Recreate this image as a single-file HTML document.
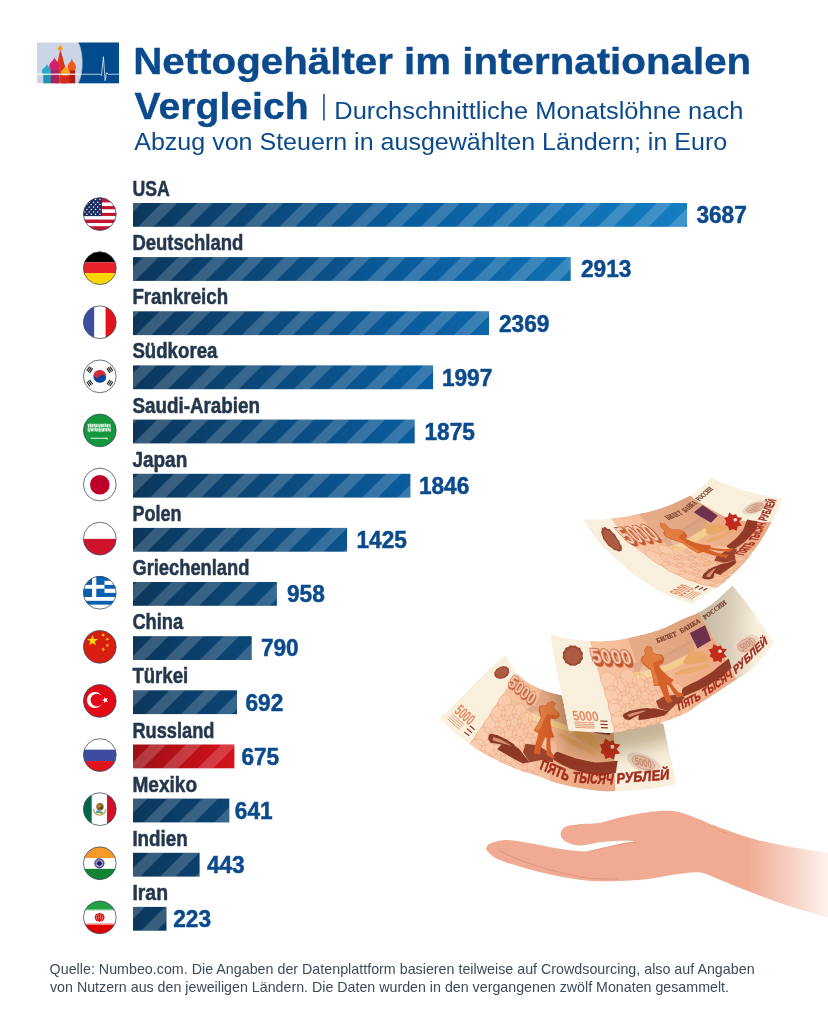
<!DOCTYPE html>
<html lang="de"><head><meta charset="utf-8"><title>Nettogehälter im internationalen Vergleich</title>
<style>
html,body{margin:0;padding:0;background:#fff}
body{width:828px;height:1024px;overflow:hidden;font-family:"Liberation Sans",Arial,sans-serif}
svg{display:block}
text{font-family:"Liberation Sans",Arial,sans-serif}
.lab{font-weight:bold;font-size:21.2px;fill:#25374d;stroke:#25374d;stroke-width:0.5px}
.val{font-weight:bold;font-size:24.0px;fill:#0b4a8c;stroke:#0b4a8c;stroke-width:0.5px}
.ttl{font-weight:bold;font-size:36.4px;fill:#0b4a8c;stroke:#0b4a8c;stroke-width:0.35px}
.sub{font-size:24.2px;fill:#0b4a8c}
.foot{font-size:14.8px;fill:#3c4b5c}
</style></head><body>
<svg width="828" height="1024" viewBox="0 0 828 1024">
<defs>
<linearGradient id="gb" gradientUnits="userSpaceOnUse" x1="133" y1="0" x2="687" y2="0">
<stop offset="0" stop-color="#0c375c"/><stop offset="0.5" stop-color="#0a5c9c"/><stop offset="1" stop-color="#147dc0"/></linearGradient>
<linearGradient id="gr" gradientUnits="userSpaceOnUse" x1="133" y1="0" x2="234.4" y2="0">
<stop offset="0" stop-color="#9c1015"/><stop offset="1" stop-color="#d5111b"/></linearGradient>
<pattern id="st" patternUnits="userSpaceOnUse" width="25" height="25" patternTransform="rotate(45)">
<rect x="7.95" y="0" width="11" height="25" fill="#fff" fill-opacity="0.18"/></pattern>
</defs>
<rect width="828" height="1024" fill="#fff"/>

<g id="logo">
<rect x="78.07" y="42.49" width="40.94" height="40.82" fill="#004b8d"/>
<path d="M37.0,42.49 L78.07,42.49 C83.38,53.12 83.38,72.68 78.07,83.31 L37.0,83.31Z" fill="#ccd5e6"/>
<path d="M78.31,42.49 C83.62,53.12 83.62,72.68 78.31,83.31" fill="none" stroke="#e8edf5" stroke-width="0.5"/>
<path d="M60.19,49.49 L66.23,71.23 L66.23,83.31 L55.6,83.31 L55.6,71.23Z" fill="#e63e1e"/>
<path d="M60.19,49.49 L66.23,71.23 L66.23,83.31 L60.8,83.31Z" fill="#d8321c"/>
<path d="M60.19,44.42 C60.45,46.52 62.73,47.17 62.73,48.57 C62.73,49.78 61.71,50.22 61.61,50.22 L58.77,50.22 C58.67,50.22 57.66,49.78 57.66,48.57 C57.66,47.17 59.94,46.52 60.19,44.42Z" fill="#f59a1c"/>
<rect x="43.29" y="73.65" width="7.97" height="9.66" fill="#2193b6"/>
<path d="M47.03,63.5 C47.55,67.22 52.22,68.53 52.22,71.31 C52.22,73.74 50.14,74.61 49.94,74.61 L44.12,74.61 C43.91,74.61 41.84,73.74 41.84,71.31 C41.84,68.53 46.51,67.22 47.03,63.5Z" fill="#2babcb"/>
<rect x="50.77" y="69.42" width="8.21" height="13.89" fill="#a8245c"/>
<path d="M54.52,57.22 C55.04,60.79 59.71,62.42 59.71,65.89 C59.71,68.94 57.63,70.02 57.43,70.02 L51.61,70.02 C51.4,70.02 49.32,68.94 49.32,65.89 C49.32,62.42 54.0,60.79 54.52,57.22Z" fill="#d4206c"/>
<rect x="68.89" y="70.02" width="6.28" height="13.29" fill="#b21c16"/>
<path d="M71.79,58.19 C72.21,61.88 76.01,63.41 76.01,66.65 C76.01,69.49 74.32,70.51 74.15,70.51 L69.42,70.51 C69.25,70.51 67.56,69.49 67.56,66.65 C67.56,63.41 71.36,61.88 71.79,58.19Z" fill="#ee5a1a"/>
<rect x="61.64" y="74.86" width="7.73" height="8.45" fill="#d62a1a"/>
<path d="M65.51,65.56 C65.95,68.68 69.98,69.88 69.98,72.43 C69.98,74.66 68.19,75.46 68.01,75.46 L63.0,75.46 C62.83,75.46 61.04,74.66 61.04,72.43 C61.04,69.88 65.06,68.68 65.51,65.56Z" fill="#f6a41e"/>
<path d="M37.0,74.25 L100.05,74.25 L101.5,75.46 L103.43,56.74 L105.12,80.65 L106.57,72.68 L108.26,74.25 L119.01,74.25" fill="none" stroke="#fff" stroke-width="0.7" stroke-linejoin="round"/>
<rect x="37.0" y="73.41" width="41.06" height="1.69" fill="#fff" fill-opacity="0.45"/>
</g>

<text class="ttl" x="133.2" y="73.8" textLength="618" lengthAdjust="spacingAndGlyphs">Nettogehälter im internationalen</text>
<text class="ttl" x="134.6" y="119.0" textLength="174" lengthAdjust="spacingAndGlyphs">Vergleich</text>
<rect x="323.2" y="94" width="1.5" height="26.5" fill="#0b4a8c"/>
<text class="sub" x="334.3" y="118.7" textLength="409" lengthAdjust="spacingAndGlyphs">Durchschnittliche Monatslöhne nach</text>
<text class="sub" x="134.2" y="150.1" textLength="593" lengthAdjust="spacingAndGlyphs">Abzug von Steuern in ausgewählten Ländern; in Euro</text>

<rect x="133.0" y="203.0" width="554.0" height="23.8" fill="url(#gb)"/><rect x="133.0" y="203.0" width="554.0" height="23.8" fill="url(#st)"/>
<text class="lab" x="132.4" y="196.0" textLength="37.3" lengthAdjust="spacingAndGlyphs">USA</text>
<text class="val" x="696.4" y="223.2" textLength="50.4" lengthAdjust="spacingAndGlyphs">3687</text>
<rect x="133.0" y="257.1" width="437.7" height="23.8" fill="url(#gb)"/><rect x="133.0" y="257.1" width="437.7" height="23.8" fill="url(#st)"/>
<text class="lab" x="132.4" y="250.1" textLength="111.0" lengthAdjust="spacingAndGlyphs">Deutschland</text>
<text class="val" x="581.0" y="277.3" textLength="50.4" lengthAdjust="spacingAndGlyphs">2913</text>
<rect x="133.0" y="311.3" width="356.0" height="23.8" fill="url(#gb)"/><rect x="133.0" y="311.3" width="356.0" height="23.8" fill="url(#st)"/>
<text class="lab" x="132.4" y="304.3" textLength="95.7" lengthAdjust="spacingAndGlyphs">Frankreich</text>
<text class="val" x="499.0" y="331.5" textLength="50.4" lengthAdjust="spacingAndGlyphs">2369</text>
<rect x="133.0" y="365.4" width="300.1" height="23.8" fill="url(#gb)"/><rect x="133.0" y="365.4" width="300.1" height="23.8" fill="url(#st)"/>
<text class="lab" x="132.4" y="358.4" textLength="85.0" lengthAdjust="spacingAndGlyphs">Südkorea</text>
<text class="val" x="441.9" y="385.6" textLength="50.4" lengthAdjust="spacingAndGlyphs">1997</text>
<rect x="133.0" y="419.6" width="281.7" height="23.8" fill="url(#gb)"/><rect x="133.0" y="419.6" width="281.7" height="23.8" fill="url(#st)"/>
<text class="lab" x="132.4" y="412.6" textLength="127.6" lengthAdjust="spacingAndGlyphs">Saudi-Arabien</text>
<text class="val" x="424.5" y="439.8" textLength="50.4" lengthAdjust="spacingAndGlyphs">1875</text>
<rect x="133.0" y="473.8" width="277.4" height="23.8" fill="url(#gb)"/><rect x="133.0" y="473.8" width="277.4" height="23.8" fill="url(#st)"/>
<text class="lab" x="132.4" y="466.8" textLength="54.9" lengthAdjust="spacingAndGlyphs">Japan</text>
<text class="val" x="418.9" y="493.9" textLength="50.4" lengthAdjust="spacingAndGlyphs">1846</text>
<rect x="133.0" y="527.9" width="214.1" height="23.8" fill="url(#gb)"/><rect x="133.0" y="527.9" width="214.1" height="23.8" fill="url(#st)"/>
<text class="lab" x="132.4" y="520.9" textLength="49.0" lengthAdjust="spacingAndGlyphs">Polen</text>
<text class="val" x="356.5" y="548.1" textLength="50.4" lengthAdjust="spacingAndGlyphs">1425</text>
<rect x="133.0" y="582.0" width="143.9" height="23.8" fill="url(#gb)"/><rect x="133.0" y="582.0" width="143.9" height="23.8" fill="url(#st)"/>
<text class="lab" x="132.4" y="575.0" textLength="117.0" lengthAdjust="spacingAndGlyphs">Griechenland</text>
<text class="val" x="287.0" y="602.2" textLength="37.8" lengthAdjust="spacingAndGlyphs">958</text>
<rect x="133.0" y="636.2" width="118.7" height="23.8" fill="url(#gb)"/><rect x="133.0" y="636.2" width="118.7" height="23.8" fill="url(#st)"/>
<text class="lab" x="132.4" y="629.2" textLength="50.8" lengthAdjust="spacingAndGlyphs">China</text>
<text class="val" x="260.9" y="656.4" textLength="37.8" lengthAdjust="spacingAndGlyphs">790</text>
<rect x="133.0" y="690.3" width="104.0" height="23.8" fill="url(#gb)"/><rect x="133.0" y="690.3" width="104.0" height="23.8" fill="url(#st)"/>
<text class="lab" x="132.4" y="683.3" textLength="55.8" lengthAdjust="spacingAndGlyphs">Türkei</text>
<text class="val" x="245.5" y="710.5" textLength="37.8" lengthAdjust="spacingAndGlyphs">692</text>
<rect x="133.0" y="744.5" width="101.4" height="23.8" fill="url(#gr)"/><rect x="133.0" y="744.5" width="101.4" height="23.8" fill="url(#st)"/>
<text class="lab" x="132.4" y="737.5" textLength="82.0" lengthAdjust="spacingAndGlyphs">Russland</text>
<text class="val" x="241.4" y="764.7" textLength="37.8" lengthAdjust="spacingAndGlyphs">675</text>
<rect x="133.0" y="798.6" width="96.3" height="23.8" fill="url(#gb)"/><rect x="133.0" y="798.6" width="96.3" height="23.8" fill="url(#st)"/>
<text class="lab" x="132.4" y="791.6" textLength="64.7" lengthAdjust="spacingAndGlyphs">Mexiko</text>
<text class="val" x="234.8" y="818.9" textLength="37.8" lengthAdjust="spacingAndGlyphs">641</text>
<rect x="133.0" y="852.8" width="66.6" height="23.8" fill="url(#gb)"/><rect x="133.0" y="852.8" width="66.6" height="23.8" fill="url(#st)"/>
<text class="lab" x="132.4" y="845.8" textLength="55.4" lengthAdjust="spacingAndGlyphs">Indien</text>
<text class="val" x="206.9" y="873.0" textLength="37.8" lengthAdjust="spacingAndGlyphs">443</text>
<rect x="133.0" y="906.9" width="33.5" height="23.8" fill="url(#gb)"/><rect x="133.0" y="906.9" width="33.5" height="23.8" fill="url(#st)"/>
<text class="lab" x="132.4" y="899.9" textLength="35.6" lengthAdjust="spacingAndGlyphs">Iran</text>
<text class="val" x="173.2" y="927.1" textLength="37.8" lengthAdjust="spacingAndGlyphs">223</text>
<defs><clipPath id="fc"><circle cx="0" cy="0" r="16.400000000000002"/></clipPath></defs>
<g transform="translate(99.8,214.05)"><g clip-path="url(#fc)"><rect x="-17" y="-17" width="34" height="34" fill="#fff"/><rect x="-17" y="-19" width="34" height="7.40" fill="#c2142f"/><rect x="-17" y="-8.0" width="34" height="3.20" fill="#c2142f"/><rect x="-17" y="-1.2" width="34" height="3.10" fill="#c2142f"/><rect x="-17" y="5.5" width="34" height="3.50" fill="#c2142f"/><rect x="-17" y="12.2" width="34" height="4.80" fill="#c2142f"/><rect x="-17" y="-17" width="19.1" height="19.05" fill="#1d2b5f"/><circle cx="-17.28" cy="-14.49" r="0.75" fill="#fff"/><circle cx="-12.93" cy="-14.49" r="0.75" fill="#fff"/><circle cx="-8.58" cy="-14.49" r="0.75" fill="#fff"/><circle cx="-4.23" cy="-14.49" r="0.75" fill="#fff"/><circle cx="0.12" cy="-14.49" r="0.75" fill="#fff"/><circle cx="-14.96" cy="-11.88" r="0.75" fill="#fff"/><circle cx="-10.61" cy="-11.88" r="0.75" fill="#fff"/><circle cx="-6.26" cy="-11.88" r="0.75" fill="#fff"/><circle cx="-2.09" cy="-11.88" r="0.75" fill="#fff"/><circle cx="-17.28" cy="-9.57" r="0.75" fill="#fff"/><circle cx="-12.93" cy="-9.57" r="0.75" fill="#fff"/><circle cx="-8.58" cy="-9.57" r="0.75" fill="#fff"/><circle cx="-4.23" cy="-9.57" r="0.75" fill="#fff"/><circle cx="0.12" cy="-9.57" r="0.75" fill="#fff"/><circle cx="-14.96" cy="-6.96" r="0.75" fill="#fff"/><circle cx="-10.61" cy="-6.96" r="0.75" fill="#fff"/><circle cx="-6.26" cy="-6.96" r="0.75" fill="#fff"/><circle cx="-2.09" cy="-6.96" r="0.75" fill="#fff"/><circle cx="-17.28" cy="-4.64" r="0.75" fill="#fff"/><circle cx="-12.93" cy="-4.64" r="0.75" fill="#fff"/><circle cx="-8.58" cy="-4.64" r="0.75" fill="#fff"/><circle cx="-4.23" cy="-4.64" r="0.75" fill="#fff"/><circle cx="0.12" cy="-4.64" r="0.75" fill="#fff"/><circle cx="-14.96" cy="-2.14" r="0.75" fill="#fff"/><circle cx="-10.61" cy="-2.14" r="0.75" fill="#fff"/><circle cx="-6.26" cy="-2.14" r="0.75" fill="#fff"/><circle cx="-2.09" cy="-2.14" r="0.75" fill="#fff"/><circle cx="-17.28" cy="0.29" r="0.75" fill="#fff"/><circle cx="-12.93" cy="0.29" r="0.75" fill="#fff"/><circle cx="-8.58" cy="0.29" r="0.75" fill="#fff"/><circle cx="-4.23" cy="0.29" r="0.75" fill="#fff"/><circle cx="0.12" cy="0.29" r="0.75" fill="#fff"/></g><circle cx="0" cy="0" r="16.400000000000002" fill="none" stroke="#3d5166" stroke-width="0.8"/></g>
<g transform="translate(99.8,268.15)"><g clip-path="url(#fc)"><rect x="-17" y="-17" width="34" height="11.20" fill="#000"/><rect x="-17" y="-5.8" width="34" height="10.70" fill="#e8212b"/><rect x="-17" y="4.9" width="34" height="12.10" fill="#ffd600"/></g><circle cx="0" cy="0" r="16.400000000000002" fill="none" stroke="#3d5166" stroke-width="0.8"/></g>
<g transform="translate(99.8,322.25)"><g clip-path="url(#fc)"><rect x="-17" y="-17" width="11.60" height="34" fill="#3f4c9f"/><rect x="-5.4" y="-17" width="11.20" height="34" fill="#fff"/><rect x="5.8" y="-17" width="11.20" height="34" fill="#e1141c"/></g><circle cx="0" cy="0" r="16.400000000000002" fill="none" stroke="#3d5166" stroke-width="0.8"/></g>
<g transform="translate(99.8,376.35)"><g clip-path="url(#fc)"><rect x="-17" y="-17" width="34" height="34" fill="#fff"/><g transform="rotate(34)"><path d="M-6.4,0 A6.4,6.4 0 0 1 6.4,0 Z" fill="#cd2e3a"/><path d="M-6.4,0 A6.4,6.4 0 0 0 6.4,0 Z" fill="#0047a0"/><circle cx="-3.2" cy="0" r="3.2" fill="#cd2e3a"/><circle cx="3.2" cy="0" r="3.2" fill="#0047a0"/></g><g transform="translate(-10.1,-6.7) rotate(-56)"><rect x="-2.7" y="-2.3" width="5.4" height="1.1" fill="#1a1a1a"/><rect x="-2.7" y="-0.55" width="5.4" height="1.1" fill="#1a1a1a"/><rect x="-2.7" y="1.2" width="5.4" height="1.1" fill="#1a1a1a"/></g><g transform="translate(10.1,-6.7) rotate(56)"><rect x="-2.7" y="-2.3" width="5.4" height="1.1" fill="#1a1a1a"/><rect x="-2.7" y="-0.55" width="5.4" height="1.1" fill="#1a1a1a"/><rect x="-2.7" y="1.2" width="5.4" height="1.1" fill="#1a1a1a"/></g><g transform="translate(-10.1,6.7) rotate(56)"><rect x="-2.7" y="-2.3" width="5.4" height="1.1" fill="#1a1a1a"/><rect x="-2.7" y="-0.55" width="5.4" height="1.1" fill="#1a1a1a"/><rect x="-2.7" y="1.2" width="5.4" height="1.1" fill="#1a1a1a"/></g><g transform="translate(10.1,6.7) rotate(-56)"><rect x="-2.7" y="-2.3" width="5.4" height="1.1" fill="#1a1a1a"/><rect x="-2.7" y="-0.55" width="5.4" height="1.1" fill="#1a1a1a"/><rect x="-2.7" y="1.2" width="5.4" height="1.1" fill="#1a1a1a"/></g></g><circle cx="0" cy="0" r="16.400000000000002" fill="none" stroke="#3d5166" stroke-width="0.8"/></g>
<g transform="translate(99.8,430.45)"><g clip-path="url(#fc)"><rect x="-17" y="-17" width="34" height="34" fill="#14973b"/><rect x="-12.2" y="-6.7" width="23" height="3.6" fill="#fff" fill-opacity="0.5"/><rect x="-12.4" y="-2.4" width="23.2" height="3.4" fill="#fff" fill-opacity="0.5"/><g fill="none" stroke="#fff" stroke-width="0.8" stroke-linecap="round"><path d="M-11.6,-5.8 l0.5,3.0"/><path d="M-11.0,-1.3 l0.4,2.9"/><path d="M-9.4,-6.5 l0.1,3.1"/><path d="M-8.8,-1.6 l0.7,1.9"/><path d="M-7.3,-5.9 l-0.2,2.7"/><path d="M-6.7,-1.6 l-0.9,2.1"/><path d="M-5.2,-6.2 l0.7,3.0"/><path d="M-4.6,-2.0 l0.5,2.0"/><path d="M-3.0,-5.8 l-0.3,2.2"/><path d="M-2.4,-1.3 l-0.5,2.1"/><path d="M-0.8,-5.3 l0.6,2.5"/><path d="M-0.2,-1.2 l0.1,2.6"/><path d="M1.3,-6.3 l0.7,2.9"/><path d="M1.9,-1.2 l0.7,2.2"/><path d="M3.4,-6.1 l-0.3,2.3"/><path d="M4.0,-2.1 l-0.4,2.5"/><path d="M5.6,-6.5 l0.4,2.5"/><path d="M6.2,-1.9 l0.6,2.4"/><path d="M7.7,-6.1 l0.1,2.9"/><path d="M8.3,-2.1 l0.9,1.8"/><path d="M9.9,-5.6 l0.6,2.2"/><path d="M10.5,-1.4 l-0.2,2.5"/></g><path d="M-9.1,7.8 L7.9,7.8" stroke="#fff" stroke-width="1" fill="none" opacity="0.9"/><path d="M6.3,7 L6.3,8.9 M7.2,8.4 L8.2,8.9" stroke="#fff" stroke-width="0.7" fill="none" opacity="0.9"/></g><circle cx="0" cy="0" r="16.400000000000002" fill="none" stroke="#3d5166" stroke-width="0.8"/></g>
<g transform="translate(99.8,484.55)"><g clip-path="url(#fc)"><rect x="-17" y="-17" width="34" height="34" fill="#fff"/><circle cx="0" cy="0.2" r="9.8" fill="#bf0029"/></g><circle cx="0" cy="0" r="16.400000000000002" fill="none" stroke="#3d5166" stroke-width="0.8"/></g>
<g transform="translate(99.8,538.65)"><g clip-path="url(#fc)"><rect x="-17" y="-17" width="34" height="34" fill="#fff"/><rect x="-17" y="0.2" width="34" height="17" fill="#d0132b"/></g><circle cx="0" cy="0" r="16.400000000000002" fill="none" stroke="#3d5166" stroke-width="0.8"/></g>
<g transform="translate(99.8,592.75)"><g clip-path="url(#fc)"><rect x="-17" y="-17" width="34" height="34" fill="#fff"/><rect x="-17" y="-17" width="34" height="5.02" fill="#0a5fae"/><rect x="-17" y="-7.87" width="34" height="3.87" fill="#0a5fae"/><rect x="-17" y="0.1" width="34" height="4.10" fill="#0a5fae"/><rect x="-17" y="8.07" width="34" height="3.83" fill="#0a5fae"/><rect x="-17" y="-17" width="21.7" height="21.2" fill="#0a5fae"/><rect x="-17" y="-7.87" width="21.7" height="3.87" fill="#fff"/><rect x="-7.8" y="-17" width="4.3" height="21.2" fill="#fff"/></g><circle cx="0" cy="0" r="16.400000000000002" fill="none" stroke="#3d5166" stroke-width="0.8"/></g>
<g transform="translate(99.8,646.85)"><g clip-path="url(#fc)"><rect x="-17" y="-17" width="34" height="34" fill="#d81e10"/><polygon points="-7.25,-11.80 -5.97,-7.86 -1.83,-7.86 -5.18,-5.43 -3.90,-1.49 -7.25,-3.92 -10.60,-1.49 -9.32,-5.43 -12.67,-7.86 -8.53,-7.86" fill="#fde100"/><polygon points="1.64,-10.94 2.64,-12.00 1.95,-13.27 3.26,-12.65 4.26,-13.71 4.07,-12.27 5.38,-11.64 3.95,-11.37 3.77,-9.93 3.07,-11.21" fill="#fde100"/><polygon points="5.51,-7.57 6.83,-8.18 6.67,-9.62 7.65,-8.55 8.97,-9.15 8.26,-7.89 9.24,-6.82 7.82,-7.11 7.10,-5.84 6.94,-7.28" fill="#fde100"/><polygon points="5.59,-2.10 7.04,-2.11 7.48,-3.50 7.94,-2.12 9.39,-2.14 8.23,-1.27 8.69,0.10 7.51,-0.74 6.34,0.13 6.78,-1.26" fill="#fde100"/><polygon points="1.85,1.33 3.21,1.86 4.12,0.74 4.04,2.19 5.40,2.71 3.99,3.08 3.91,4.53 3.12,3.31 1.72,3.68 2.64,2.56" fill="#fde100"/></g><circle cx="0" cy="0" r="16.400000000000002" fill="none" stroke="#3d5166" stroke-width="0.8"/></g>
<g transform="translate(99.8,700.95)"><g clip-path="url(#fc)"><rect x="-17" y="-17" width="34" height="34" fill="#e30a17"/><circle cx="-4.9" cy="-0.9" r="8.0" fill="#fff"/><circle cx="-2.85" cy="-0.9" r="6.4" fill="#e30a17"/><polygon points="2.30,-0.80 4.41,-1.59 4.51,-3.84 5.92,-2.08 8.09,-2.68 6.84,-0.80 8.09,1.08 5.92,0.48 4.51,2.24 4.41,-0.01" fill="#fff"/></g><circle cx="0" cy="0" r="16.400000000000002" fill="none" stroke="#3d5166" stroke-width="0.8"/></g>
<g transform="translate(99.8,755.05)"><g clip-path="url(#fc)"><rect x="-17" y="-17" width="34" height="11.60" fill="#fff"/><rect x="-17" y="-5.4" width="34" height="11.40" fill="#3f4ba1"/><rect x="-17" y="6.0" width="34" height="11.00" fill="#e1141c"/></g><circle cx="0" cy="0" r="16.400000000000002" fill="none" stroke="#3d5166" stroke-width="0.8"/></g>
<g transform="translate(99.8,809.15)"><g clip-path="url(#fc)"><rect x="-17" y="-17" width="9.03" height="34" fill="#006847"/><rect x="-7.97" y="-17" width="15.22" height="34" fill="#fff"/><rect x="7.25" y="-17" width="9.75" height="34" fill="#ce1126"/><path d="M-6.3,0 Q-5.5,5.6 -0.2,6 Q5.4,5.6 6.1,0" fill="none" stroke="#b9a347" stroke-width="1.2"/><ellipse cx="-1.6" cy="2.6" rx="2.6" ry="1.5" fill="#4a9fb0"/><ellipse cx="1.5" cy="3.4" rx="2" ry="1.1" fill="#5d9a48"/><circle cx="0.2" cy="-2.4" r="3.7" fill="#8f5f24"/><circle cx="-0.8" cy="-3.2" r="1.8" fill="#b5852f"/><circle cx="1.6" cy="-1.2" r="1.3" fill="#5b3a18"/></g><circle cx="0" cy="0" r="16.400000000000002" fill="none" stroke="#3d5166" stroke-width="0.8"/></g>
<g transform="translate(99.8,863.25)"><g clip-path="url(#fc)"><rect x="-17" y="-17" width="34" height="11.80" fill="#f59a28"/><rect x="-17" y="-5.2" width="34" height="10.80" fill="#fff"/><rect x="-17" y="5.6" width="34" height="11.40" fill="#0f8534"/><circle cx="-0.4" cy="0.1" r="4.6" fill="#b9b3d6" stroke="#2f2474" stroke-width="1"/><circle cx="-0.4" cy="0.1" r="2.2" fill="#241a66"/><g stroke="#24246e" stroke-width="0.45" transform="translate(-0.4,0)"><path d="M0,0.1 L4.40,0.10"/><path d="M0,0.1 L3.81,2.30"/><path d="M0,0.1 L2.20,3.91"/><path d="M0,0.1 L0.00,4.50"/><path d="M0,0.1 L-2.20,3.91"/><path d="M0,0.1 L-3.81,2.30"/><path d="M0,0.1 L-4.40,0.10"/><path d="M0,0.1 L-3.81,-2.10"/><path d="M0,0.1 L-2.20,-3.71"/><path d="M0,0.1 L-0.00,-4.30"/><path d="M0,0.1 L2.20,-3.71"/><path d="M0,0.1 L3.81,-2.10"/></g></g><circle cx="0" cy="0" r="16.400000000000002" fill="none" stroke="#3d5166" stroke-width="0.8"/></g>
<g transform="translate(99.8,917.35)"><g clip-path="url(#fc)"><rect x="-17" y="-17" width="34" height="9.50" fill="#23a041"/><rect x="-17" y="-7.5" width="34" height="14.50" fill="#fff"/><rect x="-17" y="7.0" width="34" height="10.00" fill="#dc0000"/><rect x="-17" y="-7.6" width="34" height="1.1" fill="#bfe3c7"/><rect x="-17" y="5.6" width="34" height="1.5" fill="#f4b4b4"/><ellipse cx="-0.2" cy="0" rx="5" ry="4.5" fill="#dc0000" fill-opacity="0.55"/><g fill="none" stroke="#dc0000" stroke-width="1"><path d="M-0.2,-4.4 V4.4"/><path d="M-1.8,-3.4 Q-3.4,0 -1.2,3.6"/><path d="M1.4,-3.4 Q3.0,0 0.8,3.6"/><path d="M-3.4,-3.4 Q-6,0.5 -2.8,3.8"/><path d="M3.0,-3.4 Q5.6,0.5 2.4,3.8"/></g></g><circle cx="0" cy="0" r="16.400000000000002" fill="none" stroke="#3d5166" stroke-width="0.8"/></g>
<g id="notes">
<clipPath id="nc3"><path d="M505.6,655.2 L506.6,656.9 L507.6,658.7 L508.6,660.5 L509.6,662.4 L510.7,664.3 L511.9,666.2 L513.2,668.1 L514.7,670.1 L516.3,672.1 L518.0,674.1 L519.8,676.0 L521.8,677.8 L523.9,679.6 L526.1,681.2 L528.4,682.7 L530.9,684.2 L533.4,685.5 L536.0,686.9 L538.8,688.1 L541.6,689.3 L544.4,690.4 L547.4,691.5 L550.4,692.6 L553.6,693.6 L556.8,694.2 L560.2,695.1 L563.5,696.1 L566.9,697.1 L570.4,698.2 L574.0,699.4 L577.6,700.5 L581.3,701.8 L585.1,703.0 L588.9,704.4 L592.9,705.8 L596.9,707.3 L601.0,708.9 L605.2,710.4 L609.5,711.8 L614.0,713.3 L618.9,714.7 L624.3,716.3 L630.2,717.9 L636.4,719.4 L642.9,720.7 L649.6,721.7 L656.5,722.7 L663.3,723.8 L663.7,725.5 L664.1,727.4 L664.5,729.3 L664.9,731.2 L665.3,733.2 L665.8,735.2 L666.2,737.3 L666.7,739.4 L667.2,741.7 L667.7,743.9 L668.2,746.3 L668.7,748.7 L669.2,751.1 L669.8,753.7 L670.4,756.3 L671.0,759.0 L671.6,761.8 L672.3,764.7 L673.0,767.7 L673.7,770.8 L674.4,774.0 L675.1,777.3 L675.9,780.7 L676.7,784.2 L668.7,785.9 L660.8,787.5 L652.8,788.7 L644.9,789.5 L637.3,790.2 L629.9,790.7 L622.8,791.1 L616.1,791.3 L609.8,791.5 L603.5,791.4 L597.4,790.8 L591.4,790.1 L585.5,789.3 L579.8,788.3 L574.1,787.3 L568.6,786.1 L563.2,784.8 L557.9,783.4 L552.7,781.9 L547.8,780.0 L542.9,778.0 L538.2,776.0 L533.4,774.3 L528.5,773.0 L523.7,771.7 L519.1,770.0 L514.6,768.2 L510.2,766.3 L505.8,764.4 L501.5,762.4 L497.3,760.4 L493.2,758.3 L489.1,756.2 L485.2,754.0 L481.3,751.6 L477.5,749.3 L473.8,746.8 L470.1,744.3 L466.5,741.8 L463.0,739.3 L459.6,736.8 L456.4,734.3 L453.3,731.6 L450.4,729.0 L447.6,726.2 L445.0,723.4 L442.3,720.7 L439.7,718.0 L442.8,715.1 L445.8,712.3 L448.8,709.5 L451.8,706.7 L454.7,703.8 L457.5,701.0 L460.3,698.2 L463.1,695.4 L465.9,692.7 L468.6,689.9 L471.3,687.2 L474.0,684.5 L476.6,681.8 L479.2,679.1 L481.8,676.5 L484.4,673.9 L487.0,671.3 L489.6,668.8 L492.2,666.4 L494.9,664.1 L497.6,661.8 L500.3,659.6 L503.0,657.4Z"/></clipPath>
<g clip-path="url(#nc3)">
<path d="M505.6,655.2 L506.6,656.9 L507.6,658.7 L508.6,660.5 L509.6,662.4 L510.7,664.3 L511.9,666.2 L513.2,668.1 L514.7,670.1 L516.3,672.1 L518.0,674.1 L519.8,676.0 L521.8,677.8 L523.9,679.6 L526.1,681.2 L528.4,682.7 L530.9,684.2 L533.4,685.5 L536.0,686.9 L538.8,688.1 L541.6,689.3 L544.4,690.4 L547.4,691.5 L550.4,692.6 L553.6,693.6 L556.8,694.2 L560.2,695.1 L563.5,696.1 L566.9,697.1 L570.4,698.2 L574.0,699.4 L577.6,700.5 L581.3,701.8 L585.1,703.0 L588.9,704.4 L592.9,705.8 L596.9,707.3 L601.0,708.9 L605.2,710.4 L609.5,711.8 L614.0,713.3 L618.9,714.7 L624.3,716.3 L630.2,717.9 L636.4,719.4 L642.9,720.7 L649.6,721.7 L656.5,722.7 L663.3,723.8 L663.7,725.5 L664.1,727.4 L664.5,729.3 L664.9,731.2 L665.3,733.2 L665.8,735.2 L666.2,737.3 L666.7,739.4 L667.2,741.7 L667.7,743.9 L668.2,746.3 L668.7,748.7 L669.2,751.1 L669.8,753.7 L670.4,756.3 L671.0,759.0 L671.6,761.8 L672.3,764.7 L673.0,767.7 L673.7,770.8 L674.4,774.0 L675.1,777.3 L675.9,780.7 L676.7,784.2 L668.7,785.9 L660.8,787.5 L652.8,788.7 L644.9,789.5 L637.3,790.2 L629.9,790.7 L622.8,791.1 L616.1,791.3 L609.8,791.5 L603.5,791.4 L597.4,790.8 L591.4,790.1 L585.5,789.3 L579.8,788.3 L574.1,787.3 L568.6,786.1 L563.2,784.8 L557.9,783.4 L552.7,781.9 L547.8,780.0 L542.9,778.0 L538.2,776.0 L533.4,774.3 L528.5,773.0 L523.7,771.7 L519.1,770.0 L514.6,768.2 L510.2,766.3 L505.8,764.4 L501.5,762.4 L497.3,760.4 L493.2,758.3 L489.1,756.2 L485.2,754.0 L481.3,751.6 L477.5,749.3 L473.8,746.8 L470.1,744.3 L466.5,741.8 L463.0,739.3 L459.6,736.8 L456.4,734.3 L453.3,731.6 L450.4,729.0 L447.6,726.2 L445.0,723.4 L442.3,720.7 L439.7,718.0 L442.8,715.1 L445.8,712.3 L448.8,709.5 L451.8,706.7 L454.7,703.8 L457.5,701.0 L460.3,698.2 L463.1,695.4 L465.9,692.7 L468.6,689.9 L471.3,687.2 L474.0,684.5 L476.6,681.8 L479.2,679.1 L481.8,676.5 L484.4,673.9 L487.0,671.3 L489.6,668.8 L492.2,666.4 L494.9,664.1 L497.6,661.8 L500.3,659.6 L503.0,657.4Z" fill="#f8efdc"/>
<linearGradient id="pg3" gradientUnits="userSpaceOnUse" x1="495.2" y1="705.7" x2="613.8" y2="731.1"><stop offset="0" stop-color="#f7c6a6"/><stop offset="0.45" stop-color="#f3b892"/><stop offset="1" stop-color="#eaa984"/></linearGradient>
<path d="M517.7,673.7 L519.5,675.7 L521.4,677.5 L523.5,679.3 L525.7,680.9 L528.0,682.5 L530.5,683.9 L533.0,685.3 L535.6,686.7 L538.3,687.9 L541.1,689.1 L544.0,690.3 L546.9,691.4 L549.9,692.5 L553.0,693.5 L556.3,694.1 L559.6,694.9 L563.0,695.9 L566.4,697.0 L569.8,698.1 L573.4,699.2 L577.0,700.3 L580.7,701.6 L584.5,702.8 L588.3,704.2 L592.2,705.6 L596.2,707.1 L600.3,708.6 L604.5,710.1 L608.8,711.6 L613.3,713.0 L613.4,715.3 L613.4,717.7 L613.5,720.1 L613.6,722.6 L613.6,725.2 L613.7,727.8 L613.8,730.5 L613.9,733.3 L614.0,736.2 L614.1,739.1 L614.1,742.1 L614.2,745.3 L614.3,748.5 L614.4,751.8 L614.5,755.2 L614.5,758.7 L614.6,762.3 L614.7,766.0 L614.7,769.9 L614.8,773.9 L614.9,778.0 L614.9,782.3 L615.0,786.7 L615.1,791.3 L608.8,791.5 L602.5,791.3 L596.4,790.7 L590.5,790.0 L584.6,789.1 L578.9,788.2 L573.3,787.1 L567.7,785.9 L562.3,784.6 L557.1,783.2 L551.9,781.6 L547.0,779.7 L542.2,777.7 L537.4,775.7 L532.6,774.1 L527.7,772.8 L523.0,771.4 L518.4,769.7 L513.9,767.9 L509.5,766.0 L505.1,764.1 L500.9,762.1 L496.7,760.1 L492.5,758.0 L488.5,755.8 L484.5,753.6 L480.7,751.3 L476.9,748.9 L473.2,746.4 L469.5,743.9 L471.8,740.5 L474.2,737.1 L476.4,733.8 L478.7,730.5 L480.9,727.3 L483.1,724.1 L485.2,721.0 L487.3,717.9 L489.3,714.8 L491.3,711.7 L493.2,708.7 L495.2,705.7 L497.1,702.8 L498.9,699.9 L500.8,697.0 L502.7,694.2 L504.5,691.5 L506.4,688.8 L508.3,686.2 L510.2,683.6 L512.1,681.1 L514.0,678.6 L515.9,676.2Z" fill="url(#pg3)"/>
<path d="M542.0,689.5 L544.9,690.6 L547.8,691.7 L550.8,692.8 L553.9,693.7 L557.1,694.3 L560.4,695.1 L563.7,696.1 L567.0,697.2 L570.5,698.2 L574.0,699.4 L577.5,700.5 L581.2,701.7 L584.9,703.0 L588.7,704.3 L592.5,705.7 L596.5,707.2 L600.5,708.7 L604.6,710.2 L608.9,711.6 L613.3,713.0 L613.3,715.1 L613.4,717.2 L613.5,719.4 L613.5,721.6 L613.6,723.9 L613.7,726.2 L613.7,728.6 L613.8,731.1 L608.9,730.2 L604.1,729.1 L599.5,727.8 L594.9,726.5 L590.5,725.2 L586.2,723.9 L581.9,722.7 L577.7,721.4 L573.7,720.2 L569.7,718.9 L565.8,717.7 L562.0,716.3 L558.3,715.0 L554.7,713.7 L551.0,712.6 L547.4,711.8 L543.9,710.7 L540.6,709.5 L537.3,708.2 L534.1,706.9 L535.3,704.2 L536.4,701.7 L537.5,699.2 L538.7,696.7 L539.8,694.3 L540.9,691.9Z" fill="#d39a78" fill-opacity="0.45"/>
<path d="M531.9,705.1 L537.1,707.4 L542.5,709.6 L548.3,711.5 L554.6,712.8 L561.0,714.6 L567.5,716.4 L574.3,718.1 L580.8,719.9 L587.5,721.7 L594.3,723.6 L592.1,727.5 L589.7,731.6 L581.6,729.2 L573.7,726.8 L566.2,724.4 L558.8,721.9 L551.8,719.5 L544.8,717.8 L538.2,715.6 L532.3,712.9 L526.7,710.0 L529.3,707.5Z" fill="#c9977a" fill-opacity="0.5"/>
<path d="M526.2,710.5 L531.7,713.5 L537.5,716.3 L544.2,718.4 L551.2,720.1 L558.3,722.5 L565.7,724.9 L573.2,727.3 L581.1,729.7 L589.3,732.1 L587.6,737.0 L579.2,734.8 L571.1,732.5 L563.3,730.1 L555.9,727.5 L548.8,725.1 L541.7,723.4 L535.0,721.1 L528.9,717.8 L523.1,714.5Z" fill="#f3d28e" fill-opacity="0.9"/>
<path d="M572.7,732.0 L578.7,730.5 L584.7,729.1 L589.6,725.9 L587.8,731.6 L591.9,734.8 L596.2,738.0 L598.0,742.7 L599.8,747.5 L596.5,749.5 L589.2,745.4 L582.4,741.3 L575.9,737.2Z" fill="#e9a868"/><path d="M559.1,732.6 L564.2,735.0 L569.5,737.3 L575.5,740.8 L581.8,744.4 L588.4,747.9 L595.3,751.3 L594.7,755.6 L586.3,751.8 L578.3,747.9 L570.8,744.0 L564.5,739.9 L558.6,735.7Z" fill="#e9a868" fill-opacity="0.85"/>
<path d="M510.2,706.4 L506.7,710.0 L502.2,710.9 L498.7,708.4 L497.6,703.6 L499.4,698.5 L503.1,695.1 L507.2,694.6 L510.3,697.0 L511.5,701.4Z M504.3,717.2 L500.6,721.1 L495.8,722.0 L492.0,719.4 L490.8,714.4 L492.6,709.1 L496.5,705.5 L500.8,704.9 L504.2,707.3 L505.6,712.0Z M498.1,728.7 L494.1,732.8 L488.9,733.7 L484.7,730.9 L483.4,725.7 L485.3,720.1 L489.5,716.4 L494.2,715.7 L498.0,718.3 L499.5,723.2Z M491.4,740.7 L487.1,745.0 L481.5,745.9 L477.0,743.0 L475.4,737.4 L477.5,731.6 L482.0,727.7 L487.2,727.0 L491.2,729.7 L492.9,734.9Z M484.3,753.5 L482.8,752.6 L479.0,750.3 L474.3,747.2 L470.6,744.6 L469.2,743.7 L474.0,739.6 L479.6,738.9 L484.0,741.8 L485.8,747.3Z M515.1,715.9 L511.6,719.9 L506.9,721.1 L502.9,718.8 L501.4,714.1 L502.8,708.8 L506.4,705.2 L510.7,704.4 L514.3,706.5 L516.0,710.8Z M509.7,727.4 L506.0,731.6 L500.9,732.8 L496.6,730.3 L494.9,725.3 L496.5,719.9 L500.3,716.0 L504.9,715.1 L508.8,717.3 L510.6,721.9Z M503.8,739.4 L499.8,743.8 L494.4,745.1 L489.7,742.5 L488.0,737.1 L489.6,731.4 L493.7,727.4 L498.7,726.5 L502.9,728.8 L504.9,733.7Z M497.6,752.2 L493.3,756.9 L488.7,756.0 L483.8,753.2 L480.5,749.6 L482.2,743.5 L486.7,739.3 L492.1,738.4 L496.6,740.9 L498.7,746.1Z M494.3,759.1 L492.8,758.4 L488.7,756.3 L483.8,753.4 L479.9,750.9 L478.4,749.9 L479.9,750.8 L485.0,751.0 L489.8,753.7 L492.7,758.1Z M525.7,714.2 L522.5,718.2 L517.8,719.5 L513.7,717.6 L511.9,713.1 L513.0,708.0 L516.4,704.3 L520.7,703.3 L524.4,705.1 L526.4,709.2Z M521.0,725.5 L517.6,729.7 L512.6,731.2 L508.2,729.1 L506.3,724.3 L507.4,719.0 L510.9,715.0 L515.5,713.9 L519.5,715.8 L521.6,720.2Z M516.0,737.5 L512.3,742.0 L507.0,743.5 L502.3,741.2 L500.2,736.2 L501.4,730.5 L505.2,726.4 L510.1,725.2 L514.4,727.2 L516.7,731.9Z M510.6,750.2 L506.6,755.0 L501.0,756.6 L495.9,754.1 L493.6,748.7 L494.9,742.7 L499.0,738.3 L504.3,737.1 L508.9,739.3 L511.3,744.2Z M504.8,763.9 L503.2,763.4 L498.9,761.5 L493.8,758.8 L489.6,756.6 L488.1,755.6 L492.4,751.0 L498.1,749.7 L503.0,752.1 L505.6,757.5Z M532.2,723.2 L529.0,727.5 L524.2,729.1 L519.7,727.2 L517.4,722.7 L518.2,717.4 L521.5,713.5 L526.0,712.2 L530.1,713.9 L532.5,718.0Z M527.9,735.1 L524.5,739.7 L519.4,741.3 L514.6,739.3 L512.2,734.5 L513.0,728.9 L516.5,724.7 L521.3,723.3 L525.7,725.2 L528.2,729.6Z M523.3,747.8 L519.7,752.7 L514.2,754.4 L509.0,752.2 L506.5,747.0 L507.4,741.1 L511.2,736.7 L516.3,735.2 L521.0,737.2 L523.7,741.9Z M518.3,761.4 L514.5,766.7 L509.6,766.2 L504.2,763.7 L500.5,760.4 L501.4,754.1 L505.5,749.3 L510.9,747.8 L515.9,750.0 L518.8,755.1Z M515.7,769.0 L514.0,768.6 L509.6,766.8 L504.2,764.3 L499.9,762.1 L498.3,761.1 L499.9,761.7 L505.2,761.3 L510.5,763.7 L514.0,768.0Z M543.3,720.5 L540.3,724.8 L535.6,726.6 L530.9,724.9 L528.4,720.6 L528.9,715.5 L532.0,711.6 L536.5,710.2 L540.7,711.7 L543.3,715.6Z M539.7,732.2 L536.6,736.8 L531.5,738.7 L526.6,737.0 L523.9,732.4 L524.4,726.9 L527.7,722.7 L532.3,721.1 L536.9,722.7 L539.7,726.9Z M535.9,744.7 L532.5,749.7 L527.1,751.7 L521.9,749.8 L519.1,744.9 L519.6,739.0 L523.1,734.5 L528.1,732.9 L532.9,734.6 L535.9,739.0Z M531.7,758.2 L528.1,763.5 L522.4,765.7 L516.9,763.6 L513.9,758.2 L514.5,751.9 L518.2,747.1 L523.5,745.4 L528.6,747.3 L531.8,752.1Z M527.3,772.7 L525.4,772.6 L520.7,771.1 L515.1,768.9 L510.6,766.8 L509.0,765.8 L512.9,760.7 L518.6,758.9 L524.0,760.9 L527.3,766.1Z M548.3,741.1 L545.3,745.8 L540.0,747.9 L534.6,746.7 L531.4,742.2 L531.6,736.5 L534.8,731.9 L539.7,730.0 L544.8,731.1 L548.0,735.3Z M544.9,754.4 L541.7,759.5 L536.1,761.7 L530.3,760.3 L527.0,755.4 L527.3,749.3 L530.7,744.4 L535.9,742.4 L541.3,743.6 L544.7,748.2Z M541.3,768.8 L537.9,774.4 L532.7,774.2 L526.6,772.7 L522.3,769.7 L522.6,763.0 L526.2,757.8 L531.8,755.7 L537.4,757.0 L541.0,762.0Z M539.3,777.0 L537.4,776.6 L532.6,775.1 L526.5,773.5 L521.8,771.7 L520.1,770.8 L521.9,771.1 L527.4,770.1 L533.4,771.6 L537.5,775.8Z M557.5,751.5 L554.6,756.7 L549.2,758.6 L543.7,756.4 L540.2,751.5 L540.0,745.6 L543.2,740.7 L548.2,738.8 L553.4,740.6 L557.0,745.4Z M554.6,765.8 L551.5,771.4 L545.8,773.4 L540.0,771.0 L536.3,765.6 L536.1,759.2 L539.5,753.9 L544.9,751.9 L550.3,753.9 L554.1,759.2Z M551.5,781.4 L549.5,781.2 L544.5,779.5 L538.6,776.9 L533.8,774.8 L532.0,773.9 L535.5,768.2 L541.2,766.1 L547.0,768.4 L550.9,774.1Z" fill="#fbd9c0" fill-opacity="0.35" stroke="#e38456" stroke-opacity="0.6" stroke-width="0.45"/>
<path d="M555.8,752.2 L558.3,751.9 L566.9,755.3 L576.1,758.5 L585.3,760.5 L594.9,762.4 L602.4,762.2 L609.9,761.5 L617.7,760.7 L616.8,766.5 L615.9,772.7 L608.7,774.3 L601.6,775.5 L593.6,774.6 L585.7,773.5 L577.7,771.1 L570.0,768.5 L562.0,764.7 L554.5,760.5 L551.9,757.6Z" fill="#913a27"/>
<path d="M525.5,743.7 L530.8,744.4 L536.4,744.9 L542.0,747.8 L547.6,751.5 L553.4,755.4 L553.1,762.4 L547.3,761.2 L541.6,760.0 L535.8,761.0 L529.9,762.3 L526.3,757.3 L522.9,752.2 L524.2,747.9Z" fill="#9a4430"/><path d="M505.9,739.1 L512.4,744.1 L519.3,749.1 L524.3,755.7 L529.9,762.3 L522.8,763.6 L514.6,759.3 L506.8,754.8 L502.0,752.0 L497.4,749.2 L501.7,744.1Z" fill="#8e3826"/>
<path d="M491.2,733.7 L497.9,735.2 L502.1,737.4 L506.5,739.5 L510.2,741.9 L514.0,744.3 L516.2,749.7 L510.2,747.7 L506.1,746.2 L502.1,744.7 L495.7,743.6 L490.9,743.1 L488.2,739.2 L488.8,735.1Z" fill="#8a3827"/><path d="M493.3,737.0 L499.7,739.0 L503.6,741.1 L507.5,743.2 L511.7,745.9 L504.8,744.0 L497.3,741.8 L492.5,740.2Z" fill="#d89070"/>
<path d="M552.2,701.1 L555.6,703.8 L553.8,706.9 L555.3,709.7 L559.6,713.2 L559.6,716.7 L555.7,719.2 L550.6,718.4 L550.5,722.7 L551.2,726.3 L551.8,730.1 L553.1,733.8 L554.4,737.5 L550.5,738.0 L550.3,743.5 L551.0,751.2 L554.8,757.4 L552.4,758.6 L546.4,754.6 L546.4,750.3 L546.3,746.1 L546.8,738.7 L545.4,736.8 L543.0,742.5 L541.6,746.3 L540.2,750.3 L540.4,754.6 L534.0,753.5 L534.9,746.8 L536.0,742.8 L537.1,738.8 L538.5,733.5 L533.5,730.2 L537.2,725.0 L539.0,721.4 L540.9,718.0 L539.7,714.3 L538.7,710.6 L539.0,706.6 L542.2,705.3 L545.9,705.5 L547.6,702.7Z" fill="#d5602a"/><path d="M551.9,701.5 L555.0,704.0 L553.4,706.7 L554.8,709.8 L558.6,713.2 L557.7,716.1 L552.2,714.7 L547.2,714.3 L543.9,719.8 L542.8,723.0 L541.7,726.3 L539.7,729.2 L537.7,732.1 L534.4,729.8 L537.5,725.2 L539.5,721.8 L541.5,718.3 L540.8,714.6 L540.3,710.9 L539.9,707.2 L542.6,706.0 L546.3,706.1 L548.1,703.0Z" fill="#e58549" fill-opacity="0.8"/>
<polygon points="616.6,748.9 620.1,753.3 615.0,754.4 613.9,759.4 609.5,757.5 605.4,759.0 604.0,754.4 600.5,752.7 602.1,748.9 599.6,744.8 603.8,743.2 605.1,738.3 609.5,741.4 613.3,739.9 614.8,743.7 620.4,744.4" fill="#c12b1d"/>
<circle cx="612.4" cy="746.7" r="2.0" fill="#f8e8d8"/>
<path d="M595.2,718.3 L603.7,720.6 L612.5,722.5 L611.7,726.5 L610.9,730.8 L610.0,735.3 L601.7,734.1 L593.7,732.5 L594.2,727.6 L594.7,722.9Z" fill="#6f3150"/>
<path d="M660.3,765.8 L660.2,768.5 L658.3,770.9 L654.9,772.6 L650.2,773.2 L644.9,772.7 L639.5,771.0 L634.7,768.3 L630.8,765.0 L628.2,761.4 L627.1,758.1 L627.4,755.3 L629.2,753.4 L632.2,752.4 L636.3,752.5 L641.2,753.5 L646.4,755.2 L651.4,757.4 L655.6,760.0 L658.7,762.9Z" fill="#ead3c0"/>
<path d="M654.7,765.0 L654.5,766.9 L653.3,768.4 L650.9,769.4 L647.8,769.8 L644.3,769.4 L640.6,768.2 L637.3,766.4 L634.6,764.2 L632.8,761.9 L632.0,759.7 L632.2,757.8 L633.4,756.4 L635.5,755.7 L638.4,755.7 L641.7,756.3 L645.3,757.5 L648.7,759.1 L651.6,760.9 L653.6,763.0Z" fill="#e3bfa8" stroke="#c58a72" stroke-width="0.7"/>
<text transform="matrix(0.6828,0.1547,0.1356,1.0882,635.19,764.53)" style="font-family:Liberation Sans,Arial,sans-serif;font-weight:bold;fill:#c58a72;font-size:10.0px" textLength="24.8" lengthAdjust="spacingAndGlyphs">5000</text>
<path d="M506.2,676.5 L504.8,678.0 L502.7,678.3 L500.7,679.0 L498.8,678.5 L496.9,678.2 L495.8,677.0 L494.4,675.9 L494.6,674.2 L494.1,672.7 L495.4,671.0 L496.1,669.3 L498.1,668.3 L499.7,666.9 L501.7,666.6 L503.7,666.0 L505.3,666.6 L507.1,666.7 L507.9,668.0 L509.1,669.0 L508.8,670.7 L509.6,672.2 L508.4,673.8 L508.0,675.5Z" fill="#9c4a36"/>
<path d="M505.4,675.8 L503.7,676.8 L501.9,677.4 L500.0,677.5 L498.2,677.0 L496.9,676.1 L496.1,674.9 L495.9,673.4 L496.3,671.8 L497.3,670.3 L498.7,669.0 L500.5,668.1 L502.4,667.5 L504.1,667.5 L505.7,667.9 L506.9,668.8 L507.6,670.0 L507.8,671.5 L507.5,673.0 L506.7,674.5Z" fill="#ad5c44"/>
<path d="M452.5,714.0 L456.1,717.5 L459.9,721.0 L464.0,724.4" stroke="#e39a76" stroke-width="1" fill="none"/>
<path d="M450.8,715.6 L454.5,719.1 L458.4,722.6 L462.5,726.0" stroke="#e39a76" stroke-width="1" fill="none"/>
<path d="M449.2,717.2 L452.9,720.7 L456.9,724.2 L461.1,727.6" stroke="#e39a76" stroke-width="1" fill="none"/>
<path d="M447.5,718.7 L451.3,722.3 L455.4,725.8 L459.7,729.2" stroke="#e39a76" stroke-width="1" fill="none"/>
<path d="M469.9,725.8 L474.7,729.7" stroke="#8e3826" stroke-width="1.2" fill="none"/>
<path d="M467.1,728.8 L472.0,732.7" stroke="#8e3826" stroke-width="1.2" fill="none"/>
<path d="M464.3,731.9 L469.2,735.7" stroke="#8e3826" stroke-width="1.2" fill="none"/>
<text transform="matrix(0.9697,0.8303,-0.8373,1.3579,507.02,684.61)" style="font-family:Liberation Sans,Arial,sans-serif;font-weight:bold;fill:#f7cbb0;stroke:#b8502c;stroke-width:0.7px;paint-order:stroke;filter:url(#ds5);font-size:10.0px" textLength="24.8" lengthAdjust="spacingAndGlyphs">5000</text>
<text transform="matrix(0.6302,0.5402,-1.0458,1.2150,453.49,712.36)" style="font-family:Liberation Sans,Arial,sans-serif;font-weight:bold;fill:#e58a60;font-size:10.0px" textLength="24.8" lengthAdjust="spacingAndGlyphs">5000</text>
<text transform="matrix(0.6660,0.2338,-0.1078,0.4858,562.67,704.55)" style="font-family:Liberation Serif,serif;font-weight:bold;fill:#74402c;stroke:#74402c;stroke-width:0.3px;font-size:10.0px" textLength="31.0" lengthAdjust="spacingAndGlyphs">БИЛЕТ</text><text transform="matrix(0.7320,0.1779,-0.0312,0.4799,587.68,713.17)" style="font-family:Liberation Serif,serif;font-weight:bold;fill:#74402c;stroke:#74402c;stroke-width:0.3px;font-size:10.0px" textLength="31.0" lengthAdjust="spacingAndGlyphs">БАНКА</text><text transform="matrix(0.8270,0.1904,0.0442,0.4512,614.95,719.69)" style="font-family:Liberation Serif,serif;font-weight:bold;fill:#74402c;stroke:#74402c;stroke-width:0.3px;font-size:10.0px" textLength="37.2" lengthAdjust="spacingAndGlyphs">РОССИИ</text>
<text transform="matrix(1.1363,0.5039,-0.2996,1.5064,539.83,769.05)" style="font-family:Liberation Sans,Arial,sans-serif;font-weight:bold;font-style:italic;fill:#a32c1e;stroke:#a32c1e;stroke-width:0.35px;font-size:10.0px" textLength="24.8" lengthAdjust="spacingAndGlyphs">ПЯТЬ</text><text transform="matrix(1.3189,0.0648,-0.0916,1.5394,572.32,782.47)" style="font-family:Liberation Sans,Arial,sans-serif;font-weight:bold;font-style:italic;fill:#a32c1e;stroke:#a32c1e;stroke-width:0.35px;font-size:10.0px" textLength="31.0" lengthAdjust="spacingAndGlyphs">ТЫСЯЧ</text><text transform="matrix(1.4177,-0.1126,0.1619,1.4490,617.04,783.45)" style="font-family:Liberation Sans,Arial,sans-serif;font-weight:bold;font-style:italic;fill:#a32c1e;stroke:#a32c1e;stroke-width:0.35px;font-size:10.0px" textLength="37.2" lengthAdjust="spacingAndGlyphs">РУБЛЕЙ</text>
</g>
<filter id="ds5" x="-10%" y="-20%" width="125%" height="150%"><feMorphology in="SourceAlpha" operator="dilate" radius="0.25" result="d"/><feOffset in="d" dx="0.55" dy="0.75" result="o"/><feFlood flood-color="#c4592f"/><feComposite in2="o" operator="in" result="s"/><feMerge><feMergeNode in="s"/><feMergeNode in="SourceGraphic"/></feMerge></filter><filter id="n3bl" x="-20%" y="-30%" width="140%" height="170%"><feGaussianBlur stdDeviation="9"/></filter><g clip-path="url(#nc3)"><path d="M550.0,634.4 L554.1,635.4 L558.2,636.3 L562.3,637.3 L566.4,638.1 L570.4,638.8 L574.5,639.4 L578.6,640.0 L582.6,640.5 L586.7,640.8 L590.6,641.0 L594.6,641.2 L598.4,641.2 L602.2,641.2 L605.9,641.1 L609.6,640.8 L613.2,640.5 L616.8,640.1 L620.3,639.5 L623.8,638.9 L627.2,638.2 L630.7,637.5 L634.1,636.7 L637.5,635.9 L640.9,635.1 L644.3,634.2 L647.8,633.3 L651.2,632.4 L654.7,631.3 L658.1,630.2 L661.6,628.9 L665.1,627.4 L668.5,625.9 L672.1,624.2 L675.6,622.5 L679.3,620.7 L683.0,618.9 L686.9,617.3 L690.9,615.8 L695.1,614.2 L699.1,612.1 L703.3,609.8 L707.5,607.1 L711.8,604.1 L716.1,600.7 L720.2,597.0 L724.3,593.1 L728.4,589.2 L732.5,585.2 L734.5,587.7 L736.5,590.2 L738.5,592.7 L740.4,595.2 L742.4,597.6 L744.3,600.0 L746.2,602.5 L748.0,604.9 L749.8,607.4 L751.5,609.8 L753.2,612.3 L754.9,614.7 L756.5,617.1 L758.1,619.5 L759.7,621.9 L761.4,624.3 L763.0,626.6 L764.5,628.9 L766.1,631.2 L767.7,633.5 L769.2,635.8 L770.8,638.0 L772.3,640.3 L773.8,642.5 L769.7,648.1 L765.6,653.7 L761.2,659.0 L756.7,664.0 L752.1,668.7 L747.2,672.8 L742.2,676.3 L737.3,679.2 L732.6,682.0 L728.1,684.9 L723.8,687.9 L719.6,690.7 L715.5,693.5 L711.4,696.1 L707.4,698.7 L703.5,701.3 L699.6,703.8 L695.9,706.3 L692.4,709.0 L688.8,711.5 L684.9,713.5 L681.0,715.2 L677.0,716.8 L673.1,718.3 L669.2,719.7 L665.2,721.1 L661.3,722.4 L657.3,723.7 L653.3,724.8 L649.2,725.9 L645.2,726.8 L641.0,727.7 L636.8,728.5 L632.6,729.4 L628.4,730.3 L624.0,731.2 L619.6,732.0 L615.1,732.6 L610.5,732.9 L605.9,733.0 L601.3,732.8 L596.6,732.6 L591.9,732.4 L587.3,732.1 L582.6,731.8 L577.9,731.4 L573.2,731.0 L568.5,730.7 L567.9,727.5 L567.2,724.2 L566.6,720.8 L565.9,717.4 L565.3,714.0 L564.6,710.4 L563.9,706.8 L563.2,703.2 L562.4,699.5 L561.7,695.7 L560.9,691.8 L560.2,687.9 L559.4,683.9 L558.5,679.9 L557.7,675.7 L556.8,671.5 L556.0,667.2 L555.1,662.8 L554.2,658.3 L553.4,653.7 L552.5,649.0 L551.7,644.3 L550.9,639.4Z" transform="translate(-4,22)" fill="#55340c" fill-opacity="0.33" filter="url(#n3bl)"/></g>
<clipPath id="nc2"><path d="M550.0,634.4 L554.1,635.4 L558.2,636.3 L562.3,637.3 L566.4,638.1 L570.4,638.8 L574.5,639.4 L578.6,640.0 L582.6,640.5 L586.7,640.8 L590.6,641.0 L594.6,641.2 L598.4,641.2 L602.2,641.2 L605.9,641.1 L609.6,640.8 L613.2,640.5 L616.8,640.1 L620.3,639.5 L623.8,638.9 L627.2,638.2 L630.7,637.5 L634.1,636.7 L637.5,635.9 L640.9,635.1 L644.3,634.2 L647.8,633.3 L651.2,632.4 L654.7,631.3 L658.1,630.2 L661.6,628.9 L665.1,627.4 L668.5,625.9 L672.1,624.2 L675.6,622.5 L679.3,620.7 L683.0,618.9 L686.9,617.3 L690.9,615.8 L695.1,614.2 L699.1,612.1 L703.3,609.8 L707.5,607.1 L711.8,604.1 L716.1,600.7 L720.2,597.0 L724.3,593.1 L728.4,589.2 L732.5,585.2 L734.5,587.7 L736.5,590.2 L738.5,592.7 L740.4,595.2 L742.4,597.6 L744.3,600.0 L746.2,602.5 L748.0,604.9 L749.8,607.4 L751.5,609.8 L753.2,612.3 L754.9,614.7 L756.5,617.1 L758.1,619.5 L759.7,621.9 L761.4,624.3 L763.0,626.6 L764.5,628.9 L766.1,631.2 L767.7,633.5 L769.2,635.8 L770.8,638.0 L772.3,640.3 L773.8,642.5 L769.7,648.1 L765.6,653.7 L761.2,659.0 L756.7,664.0 L752.1,668.7 L747.2,672.8 L742.2,676.3 L737.3,679.2 L732.6,682.0 L728.1,684.9 L723.8,687.9 L719.6,690.7 L715.5,693.5 L711.4,696.1 L707.4,698.7 L703.5,701.3 L699.6,703.8 L695.9,706.3 L692.4,709.0 L688.8,711.5 L684.9,713.5 L681.0,715.2 L677.0,716.8 L673.1,718.3 L669.2,719.7 L665.2,721.1 L661.3,722.4 L657.3,723.7 L653.3,724.8 L649.2,725.9 L645.2,726.8 L641.0,727.7 L636.8,728.5 L632.6,729.4 L628.4,730.3 L624.0,731.2 L619.6,732.0 L615.1,732.6 L610.5,732.9 L605.9,733.0 L601.3,732.8 L596.6,732.6 L591.9,732.4 L587.3,732.1 L582.6,731.8 L577.9,731.4 L573.2,731.0 L568.5,730.7 L567.9,727.5 L567.2,724.2 L566.6,720.8 L565.9,717.4 L565.3,714.0 L564.6,710.4 L563.9,706.8 L563.2,703.2 L562.4,699.5 L561.7,695.7 L560.9,691.8 L560.2,687.9 L559.4,683.9 L558.5,679.9 L557.7,675.7 L556.8,671.5 L556.0,667.2 L555.1,662.8 L554.2,658.3 L553.4,653.7 L552.5,649.0 L551.7,644.3 L550.9,639.4Z"/></clipPath>
<g clip-path="url(#nc2)">
<path d="M550.0,634.4 L554.1,635.4 L558.2,636.3 L562.3,637.3 L566.4,638.1 L570.4,638.8 L574.5,639.4 L578.6,640.0 L582.6,640.5 L586.7,640.8 L590.6,641.0 L594.6,641.2 L598.4,641.2 L602.2,641.2 L605.9,641.1 L609.6,640.8 L613.2,640.5 L616.8,640.1 L620.3,639.5 L623.8,638.9 L627.2,638.2 L630.7,637.5 L634.1,636.7 L637.5,635.9 L640.9,635.1 L644.3,634.2 L647.8,633.3 L651.2,632.4 L654.7,631.3 L658.1,630.2 L661.6,628.9 L665.1,627.4 L668.5,625.9 L672.1,624.2 L675.6,622.5 L679.3,620.7 L683.0,618.9 L686.9,617.3 L690.9,615.8 L695.1,614.2 L699.1,612.1 L703.3,609.8 L707.5,607.1 L711.8,604.1 L716.1,600.7 L720.2,597.0 L724.3,593.1 L728.4,589.2 L732.5,585.2 L734.5,587.7 L736.5,590.2 L738.5,592.7 L740.4,595.2 L742.4,597.6 L744.3,600.0 L746.2,602.5 L748.0,604.9 L749.8,607.4 L751.5,609.8 L753.2,612.3 L754.9,614.7 L756.5,617.1 L758.1,619.5 L759.7,621.9 L761.4,624.3 L763.0,626.6 L764.5,628.9 L766.1,631.2 L767.7,633.5 L769.2,635.8 L770.8,638.0 L772.3,640.3 L773.8,642.5 L769.7,648.1 L765.6,653.7 L761.2,659.0 L756.7,664.0 L752.1,668.7 L747.2,672.8 L742.2,676.3 L737.3,679.2 L732.6,682.0 L728.1,684.9 L723.8,687.9 L719.6,690.7 L715.5,693.5 L711.4,696.1 L707.4,698.7 L703.5,701.3 L699.6,703.8 L695.9,706.3 L692.4,709.0 L688.8,711.5 L684.9,713.5 L681.0,715.2 L677.0,716.8 L673.1,718.3 L669.2,719.7 L665.2,721.1 L661.3,722.4 L657.3,723.7 L653.3,724.8 L649.2,725.9 L645.2,726.8 L641.0,727.7 L636.8,728.5 L632.6,729.4 L628.4,730.3 L624.0,731.2 L619.6,732.0 L615.1,732.6 L610.5,732.9 L605.9,733.0 L601.3,732.8 L596.6,732.6 L591.9,732.4 L587.3,732.1 L582.6,731.8 L577.9,731.4 L573.2,731.0 L568.5,730.7 L567.9,727.5 L567.2,724.2 L566.6,720.8 L565.9,717.4 L565.3,714.0 L564.6,710.4 L563.9,706.8 L563.2,703.2 L562.4,699.5 L561.7,695.7 L560.9,691.8 L560.2,687.9 L559.4,683.9 L558.5,679.9 L557.7,675.7 L556.8,671.5 L556.0,667.2 L555.1,662.8 L554.2,658.3 L553.4,653.7 L552.5,649.0 L551.7,644.3 L550.9,639.4Z" fill="#f8efdc"/>
<linearGradient id="pg2" gradientUnits="userSpaceOnUse" x1="604.1" y1="691.2" x2="711.4" y2="634.0"><stop offset="0" stop-color="#f7c6a6"/><stop offset="0.45" stop-color="#f3b892"/><stop offset="1" stop-color="#eaa984"/></linearGradient>
<path d="M590.0,641.0 L593.9,641.1 L597.8,641.2 L601.6,641.2 L605.3,641.1 L609.0,640.9 L612.6,640.6 L616.2,640.2 L619.8,639.6 L623.2,639.0 L626.7,638.3 L630.1,637.6 L633.5,636.8 L636.9,636.0 L640.4,635.2 L643.8,634.4 L647.2,633.5 L650.7,632.5 L654.1,631.5 L657.6,630.4 L661.1,629.1 L664.5,627.7 L668.0,626.1 L671.5,624.5 L675.1,622.7 L678.7,621.0 L682.4,619.2 L686.3,617.5 L690.3,616.0 L694.4,614.5 L698.5,612.5 L700.4,615.6 L702.2,618.6 L704.1,621.6 L705.9,624.6 L707.6,627.5 L709.4,630.5 L711.1,633.4 L712.8,636.3 L714.5,639.1 L716.2,641.9 L717.8,644.7 L719.4,647.5 L721.0,650.3 L722.6,653.1 L724.1,655.8 L725.5,658.5 L727.0,661.3 L728.4,664.0 L729.8,666.6 L731.2,669.3 L732.5,671.9 L733.9,674.5 L735.2,677.1 L736.5,679.7 L731.9,682.5 L727.4,685.4 L723.1,688.3 L718.9,691.2 L714.8,693.9 L710.8,696.5 L706.8,699.1 L702.8,701.7 L699.0,704.2 L695.3,706.7 L691.8,709.5 L688.2,711.9 L684.3,713.8 L680.4,715.5 L676.4,717.0 L672.5,718.5 L668.5,719.9 L664.6,721.3 L660.6,722.6 L656.7,723.9 L652.6,725.0 L648.6,726.0 L644.5,726.9 L640.3,727.8 L636.2,728.7 L631.9,729.5 L627.7,730.4 L623.3,731.3 L618.9,732.1 L614.4,732.7 L613.6,729.5 L612.9,726.3 L612.1,723.0 L611.3,719.6 L610.6,716.3 L609.7,712.8 L608.9,709.3 L608.1,705.8 L607.2,702.2 L606.2,698.6 L605.2,694.9 L604.1,691.2 L603.0,687.4 L601.8,683.6 L600.6,679.7 L599.3,675.7 L598.1,671.7 L596.9,667.5 L595.7,663.3 L594.6,659.0 L593.5,654.6 L592.3,650.2 L591.2,645.6Z" fill="url(#pg2)"/>
<linearGradient id="sg2" gradientUnits="userSpaceOnUse" x1="707.3" y1="626.9" x2="764.5" y2="628.9"><stop offset="0" stop-color="#c9bca6"/><stop offset="0.4" stop-color="#d9cdb7"/><stop offset="0.85" stop-color="#f8efdc"/></linearGradient>
<path d="M698.5,612.5 L702.2,610.4 L706.1,608.0 L709.9,605.4 L713.8,602.6 L717.6,599.4 L721.4,596.0 L725.1,592.4 L728.8,588.8 L732.5,585.2 L734.5,587.7 L736.5,590.2 L738.5,592.7 L740.4,595.2 L742.4,597.6 L744.3,600.0 L746.2,602.5 L748.0,604.9 L749.8,607.4 L751.5,609.8 L753.2,612.3 L754.9,614.7 L756.5,617.1 L758.1,619.5 L759.7,621.9 L761.4,624.3 L763.0,626.6 L764.5,628.9 L766.1,631.2 L767.7,633.5 L769.2,635.8 L770.8,638.0 L772.3,640.3 L773.8,642.5 L770.1,647.6 L766.4,652.7 L762.5,657.6 L758.4,662.2 L754.2,666.6 L750.0,670.6 L745.5,674.1 L741.0,677.1 L736.5,679.7 L735.2,677.1 L733.9,674.5 L732.5,671.9 L731.2,669.3 L729.8,666.6 L728.4,664.0 L727.0,661.3 L725.5,658.5 L724.1,655.8 L722.6,653.1 L721.0,650.3 L719.4,647.5 L717.8,644.7 L716.2,641.9 L714.5,639.1 L712.8,636.3 L711.1,633.4 L709.4,630.5 L707.6,627.5 L705.9,624.6 L704.1,621.6 L702.2,618.6 L700.4,615.6Z" fill="url(#sg2)"/>
<path d="M627.8,638.1 L631.2,637.4 L634.5,636.6 L637.9,635.8 L641.2,635.0 L644.6,634.2 L648.0,633.3 L651.4,632.3 L654.8,631.3 L658.2,630.2 L661.6,628.9 L665.0,627.5 L668.4,625.9 L671.9,624.3 L675.4,622.6 L679.0,620.8 L682.6,619.1 L686.4,617.5 L690.4,616.0 L694.5,614.4 L698.5,612.5 L700.2,615.3 L701.9,618.0 L703.5,620.7 L705.1,623.4 L706.7,626.1 L708.3,628.7 L709.9,631.3 L711.4,634.0 L707.2,636.1 L702.9,638.0 L698.8,639.9 L694.8,641.9 L691.0,643.9 L687.2,645.8 L683.5,647.7 L679.8,649.6 L676.2,651.4 L672.7,653.1 L669.2,654.7 L665.7,656.2 L662.1,657.5 L658.5,658.6 L654.9,659.6 L651.3,660.5 L647.7,661.5 L644.2,662.4 L640.6,663.2 L637.0,664.1 L635.7,660.5 L634.4,656.9 L633.1,653.3 L631.8,649.5 L630.5,645.8 L629.2,642.0Z" fill="#d39a78" fill-opacity="0.45"/>
<path d="M633.8,663.7 L639.8,662.5 L645.8,661.2 L651.8,659.8 L657.8,657.6 L663.7,655.1 L669.5,652.2 L675.4,648.8 L681.0,645.8 L686.7,642.7 L692.6,639.4 L693.4,644.9 L694.2,650.4 L687.2,654.0 L680.4,657.4 L673.8,660.6 L667.3,663.7 L660.5,666.1 L653.8,668.1 L647.1,670.0 L640.5,671.3 L633.8,672.4 L633.8,668.1Z" fill="#c9977a" fill-opacity="0.5"/>
<path d="M633.8,673.2 L640.5,672.3 L647.1,671.1 L653.8,669.1 L660.5,667.0 L667.2,664.5 L673.8,661.4 L680.4,658.2 L687.2,654.8 L694.2,651.2 L695.8,656.7 L688.7,660.5 L681.9,664.2 L675.4,667.7 L668.8,670.7 L662.1,673.1 L655.4,675.1 L648.7,677.1 L641.6,678.2 L634.5,679.0Z" fill="#f3d28e" fill-opacity="0.9"/>
<path d="M682.7,662.6 L686.0,657.2 L689.3,651.7 L690.7,645.2 L692.9,651.7 L697.6,651.8 L702.3,651.7 L706.0,654.7 L709.6,657.5 L708.1,661.2 L701.2,662.6 L694.4,663.8 L687.8,664.8Z" fill="#e9a868"/><path d="M674.1,672.8 L678.7,671.0 L683.5,669.1 L689.4,667.9 L695.5,666.6 L701.7,665.0 L708.1,663.3 L709.6,667.0 L702.1,669.4 L694.9,671.5 L687.8,673.5 L681.6,674.6 L675.5,675.6Z" fill="#e9a868" fill-opacity="0.85"/>
<path d="M617.3,680.5 L617.6,686.2 L614.7,690.1 L609.6,690.7 L604.3,687.6 L600.9,682.0 L600.7,676.1 L603.7,672.3 L608.7,671.9 L613.9,675.0Z M621.7,693.6 L621.7,699.1 L618.5,703.1 L613.3,703.8 L608.1,701.0 L605.0,695.7 L605.0,690.1 L608.2,686.3 L613.3,685.7 L618.4,688.5Z M625.4,706.2 L625.1,711.5 L621.7,715.4 L616.4,716.3 L611.3,713.7 L608.3,708.7 L608.7,703.3 L612.1,699.6 L617.3,698.8 L622.4,701.4Z M628.6,718.2 L628.2,723.3 L624.7,727.1 L619.3,728.1 L614.1,725.7 L611.2,721.0 L611.8,715.9 L615.4,712.2 L620.7,711.4 L625.7,713.7Z M631.7,729.6 L630.0,729.9 L625.7,730.9 L620.3,731.9 L615.7,732.5 L613.9,732.7 L614.6,727.8 L618.3,724.2 L623.7,723.3 L628.8,725.3Z M629.3,685.5 L629.6,691.1 L626.7,695.0 L621.8,695.9 L616.7,693.2 L613.4,688.0 L613.1,682.3 L616.0,678.3 L620.8,677.6 L625.9,680.4Z M633.5,698.2 L633.6,703.6 L630.4,707.4 L625.3,708.4 L620.3,706.0 L617.3,701.0 L617.4,695.5 L620.4,691.6 L625.4,690.8 L630.4,693.3Z M637.2,710.3 L637.0,715.5 L633.7,719.2 L628.5,720.3 L623.5,718.1 L620.6,713.5 L620.9,708.2 L624.2,704.3 L629.2,703.4 L634.2,705.7Z M640.5,721.9 L640.3,726.8 L636.3,728.6 L631.1,729.7 L626.5,729.6 L623.6,725.3 L624.0,720.2 L627.5,716.4 L632.6,715.4 L637.6,717.5Z M642.2,727.5 L640.6,727.8 L636.4,728.7 L631.1,729.7 L626.8,730.6 L625.1,731.0 L626.7,730.6 L630.6,727.9 L635.8,726.8 L640.6,727.8Z M636.4,677.0 L636.9,682.7 L634.3,686.8 L629.5,687.8 L624.5,685.1 L621.1,679.9 L620.6,674.1 L623.2,670.0 L627.9,669.2 L632.9,671.8Z M641.1,689.8 L641.4,695.3 L638.5,699.3 L633.6,700.4 L628.7,697.9 L625.5,693.0 L625.3,687.4 L628.0,683.5 L632.8,682.5 L637.8,684.9Z M645.2,702.1 L645.2,707.4 L642.2,711.3 L637.2,712.4 L632.2,710.2 L629.3,705.5 L629.3,700.2 L632.3,696.2 L637.2,695.2 L642.1,697.5Z M648.9,713.9 L648.8,718.9 L645.6,722.8 L640.5,723.9 L635.5,721.8 L632.6,717.4 L632.8,712.3 L636.0,708.5 L641.0,707.4 L645.9,709.5Z M652.4,725.1 L650.9,725.6 L646.8,726.6 L641.6,727.6 L637.4,728.4 L635.7,728.7 L636.0,723.8 L639.4,720.1 L644.4,719.0 L649.4,720.9Z M648.0,680.8 L648.6,686.4 L646.0,690.7 L641.3,692.0 L636.3,689.7 L633.0,684.8 L632.5,679.1 L635.0,674.9 L639.6,673.7 L644.6,676.0Z M652.6,693.2 L652.9,698.6 L650.1,702.9 L645.3,704.2 L640.4,702.1 L637.3,697.4 L637.1,691.9 L639.8,687.8 L644.5,686.6 L649.4,688.6Z M656.7,705.1 L656.8,710.4 L653.8,714.5 L648.9,715.9 L644.0,714.0 L641.0,709.5 L641.0,704.3 L644.0,700.2 L648.8,698.9 L653.6,700.8Z M660.5,716.6 L660.5,721.6 L656.8,723.9 L651.8,725.3 L647.4,725.3 L644.4,721.0 L644.6,716.0 L647.7,712.1 L652.6,710.7 L657.4,712.4Z M662.4,722.2 L660.9,722.9 L657.0,724.2 L651.9,725.5 L647.8,726.4 L646.2,726.7 L647.7,726.2 L651.2,723.4 L656.2,722.0 L660.8,722.6Z M654.6,671.6 L655.3,677.2 L652.9,681.6 L648.3,683.1 L643.4,680.9 L639.9,676.0 L639.2,670.2 L641.5,665.8 L646.0,664.5 L651.0,666.8Z M659.7,684.0 L660.1,689.5 L657.5,693.9 L652.8,695.4 L647.9,693.5 L644.7,688.8 L644.2,683.2 L646.7,678.9 L651.2,677.5 L656.2,679.5Z M664.2,696.0 L664.4,701.4 L661.6,705.7 L656.8,707.2 L651.9,705.5 L648.9,701.0 L648.7,695.6 L651.4,691.4 L656.0,689.9 L660.9,691.7Z M668.2,707.6 L668.4,712.7 L665.4,716.9 L660.5,718.6 L655.6,717.0 L652.6,712.8 L652.6,707.6 L655.5,703.4 L660.3,701.8 L665.1,703.4Z M672.2,718.6 L670.7,719.4 L666.8,720.9 L661.9,722.5 L657.8,723.7 L656.2,724.0 L656.3,719.0 L659.3,714.9 L664.1,713.3 L669.0,714.7Z M671.3,686.7 L671.8,692.1 L669.0,696.5 L664.3,698.2 L659.4,696.5 L656.2,692.0 L655.8,686.6 L658.3,682.2 L662.9,680.6 L667.9,682.3Z M675.8,698.3 L676.0,703.5 L673.2,707.9 L668.3,709.7 L663.5,708.2 L660.4,703.9 L660.2,698.6 L662.9,694.3 L667.6,692.6 L672.5,694.1Z M680.0,709.4 L680.1,714.5 L676.5,717.1 L671.6,718.9 L667.3,719.3 L664.2,715.3 L664.1,710.2 L667.0,705.9 L671.8,704.2 L676.8,705.5Z M682.1,715.1 L680.7,715.9 L676.8,717.6 L671.8,719.4 L667.8,720.6 L666.2,721.0 L667.6,720.3 L670.9,717.0 L675.8,715.2 L680.5,715.5Z M682.8,688.0 L683.3,693.5 L680.7,698.3 L675.9,700.4 L671.0,699.0 L667.8,694.7 L667.4,689.4 L670.0,684.9 L674.7,683.0 L679.6,684.1Z M687.3,699.1 L687.6,704.4 L684.9,709.3 L680.1,711.5 L675.1,710.2 L672.0,706.2 L671.7,701.0 L674.5,696.6 L679.3,694.6 L684.1,695.4Z M691.5,709.7 L690.2,710.9 L686.5,713.2 L681.6,715.4 L677.5,716.8 L675.9,717.2 L675.8,712.2 L678.7,707.8 L683.5,705.7 L688.4,706.3Z" fill="#fbd9c0" fill-opacity="0.35" stroke="#e38456" stroke-opacity="0.6" stroke-width="0.45"/>
<path d="M682.0,689.7 L683.5,687.7 L690.5,684.0 L698.0,680.4 L705.1,676.2 L712.5,671.7 L717.6,667.3 L723.1,662.9 L728.7,658.4 L730.2,663.2 L731.6,668.0 L726.6,672.3 L721.9,676.7 L716.0,680.6 L710.3,684.3 L704.0,687.5 L698.0,690.6 L691.2,693.2 L684.9,695.9 L682.0,695.9Z" fill="#913a27"/>
<path d="M655.9,701.0 L660.3,698.5 L664.6,695.9 L670.4,695.4 L676.3,694.6 L682.0,693.5 L684.9,698.1 L680.6,701.2 L676.2,703.9 L672.6,707.6 L669.0,711.2 L663.9,709.8 L658.8,708.3 L657.4,704.7Z" fill="#9a4430"/><path d="M638.6,709.0 L646.6,708.8 L654.5,708.3 L661.7,709.8 L669.0,711.2 L664.6,715.5 L656.7,717.3 L648.7,718.7 L643.7,719.5 L638.5,720.1 L638.6,714.6Z" fill="#8e3826"/>
<path d="M623.5,714.0 L629.8,710.8 L634.6,709.9 L639.3,709.0 L643.6,708.5 L647.9,708.0 L652.6,710.4 L647.1,712.4 L643.2,713.6 L639.3,714.8 L633.7,717.6 L629.8,720.0 L625.1,719.2 L622.8,716.3Z" fill="#8a3827"/><path d="M627.5,714.8 L633.7,712.4 L638.1,711.7 L642.4,710.8 L647.1,710.4 L640.8,712.9 L633.8,715.6 L629.0,717.3Z" fill="#d89070"/>
<path d="M646.5,645.7 L651.6,647.1 L652.6,651.7 L655.9,653.9 L661.7,654.6 L664.2,658.3 L663.2,663.3 L658.8,665.8 L661.7,669.9 L664.6,672.8 L667.5,675.7 L670.6,677.9 L673.6,680.0 L671.2,682.9 L674.1,687.3 L678.4,692.3 L683.8,693.8 L682.7,696.2 L676.9,697.5 L674.8,694.6 L672.6,691.6 L669.0,685.8 L666.8,685.1 L668.3,690.9 L669.4,694.5 L670.4,698.1 L672.8,701.0 L667.5,703.3 L664.6,698.1 L663.2,694.5 L661.7,690.9 L659.6,685.8 L653.8,685.9 L653.0,679.3 L652.0,675.0 L650.9,670.6 L647.2,667.7 L643.6,664.8 L640.6,660.4 L642.0,656.8 L645.1,654.6 L644.1,650.3Z" fill="#d5602a"/><path d="M646.5,646.2 L651.3,647.7 L652.2,651.7 L655.6,654.4 L661.0,655.4 L662.5,659.0 L657.4,661.2 L653.0,663.3 L654.5,670.6 L656.0,674.2 L657.4,677.8 L657.8,681.5 L658.1,685.1 L654.2,685.1 L653.5,679.3 L652.6,675.0 L651.6,670.6 L648.3,667.4 L645.1,664.1 L641.7,660.4 L642.9,657.2 L645.8,654.9 L644.8,650.3Z" fill="#e58549" fill-opacity="0.8"/>
<polygon points="723.7,653.2 726.8,657.0 722.3,658.0 721.3,662.4 717.5,660.7 713.8,662.0 712.7,658.0 709.5,656.5 711.0,653.2 708.7,649.6 712.5,648.2 713.6,643.9 717.5,646.5 720.8,645.2 722.1,648.6 727.0,649.3" fill="#c12b1d"/>
<circle cx="720.0" cy="651.2" r="1.8" fill="#f8e8d8"/>
<path d="M689.8,633.1 L697.2,629.2 L705.0,625.2 L707.1,630.4 L709.1,635.5 L711.0,640.6 L704.1,644.5 L697.5,648.5 L695.0,643.4 L692.4,638.3Z" fill="#6f3150"/>
<path d="M758.0,637.0 L759.0,639.4 L758.8,642.6 L757.4,646.0 L754.8,649.3 L751.4,652.0 L747.5,654.0 L743.5,654.8 L739.7,654.5 L736.6,653.1 L734.4,651.0 L733.5,648.4 L733.8,645.6 L735.4,642.8 L738.0,640.1 L741.4,637.8 L745.3,636.0 L749.2,634.9 L752.9,634.6 L755.9,635.3Z" fill="#ead3c0"/>
<path d="M754.4,639.7 L755.1,641.4 L754.9,643.5 L753.9,645.8 L752.2,648.0 L749.9,649.8 L747.2,651.1 L744.5,651.7 L741.9,651.6 L739.8,650.7 L738.4,649.4 L737.7,647.6 L737.9,645.6 L739.0,643.6 L740.7,641.7 L743.1,640.1 L745.7,638.9 L748.4,638.1 L750.9,638.0 L753.0,638.6Z" fill="#e3bfa8" stroke="#c58a72" stroke-width="0.7"/>
<text transform="matrix(0.4765,-0.2940,0.5232,0.8580,742.39,651.46)" style="font-family:Liberation Sans,Arial,sans-serif;font-weight:bold;fill:#c58a72;font-size:10.0px" textLength="24.8" lengthAdjust="spacingAndGlyphs">5000</text>
<path d="M582.5,655.8 L583.1,658.6 L581.4,660.8 L580.3,663.2 L577.8,664.3 L575.6,665.8 L572.9,665.5 L570.1,665.7 L568.0,664.0 L565.4,662.9 L564.4,660.3 L562.6,658.0 L563.1,655.3 L562.7,652.5 L564.5,650.4 L565.5,647.8 L568.1,647.0 L570.2,645.2 L572.9,645.7 L575.5,645.4 L577.6,647.3 L580.3,648.1 L581.2,650.8 L583.0,653.0Z" fill="#9c4a36"/>
<path d="M580.9,655.8 L580.6,658.3 L579.4,660.6 L577.7,662.4 L575.4,663.5 L572.9,663.8 L570.4,663.4 L568.1,662.2 L566.3,660.3 L565.2,658.0 L564.8,655.4 L565.3,652.9 L566.4,650.7 L568.2,648.9 L570.4,647.8 L572.9,647.5 L575.3,647.9 L577.6,649.1 L579.3,651.0 L580.5,653.3Z" fill="#ad5c44"/>
<path d="M574.4,721.9 L580.9,722.3 L587.5,722.6 L594.0,722.8" stroke="#e39a76" stroke-width="1" fill="none"/>
<path d="M574.7,723.7 L581.2,724.1 L587.8,724.4 L594.3,724.6" stroke="#e39a76" stroke-width="1" fill="none"/>
<path d="M575.0,725.5 L581.5,725.9 L588.0,726.1 L594.5,726.3" stroke="#e39a76" stroke-width="1" fill="none"/>
<path d="M575.3,727.4 L581.8,727.6 L588.3,727.9 L594.8,728.0" stroke="#e39a76" stroke-width="1" fill="none"/>
<path d="M600.2,721.0 L607.4,721.3" stroke="#8e3826" stroke-width="1.2" fill="none"/>
<path d="M600.5,724.3 L607.7,724.6" stroke="#8e3826" stroke-width="1.2" fill="none"/>
<path d="M600.9,727.6 L607.9,727.9" stroke="#8e3826" stroke-width="1.2" fill="none"/>
<text transform="matrix(1.6247,0.0608,0.6555,2.1803,592.90,663.00)" style="font-family:Liberation Sans,Arial,sans-serif;font-weight:bold;fill:#f7cbb0;stroke:#b8502c;stroke-width:0.7px;paint-order:stroke;filter:url(#ds5);font-size:10.0px" textLength="24.8" lengthAdjust="spacingAndGlyphs">5000</text>
<text transform="matrix(1.0483,0.0405,0.2927,1.3780,573.50,720.30)" style="font-family:Liberation Sans,Arial,sans-serif;font-weight:bold;fill:#e58a60;font-size:10.0px" textLength="24.8" lengthAdjust="spacingAndGlyphs">5000</text>
<text transform="matrix(0.6385,-0.2451,0.2902,0.6337,657.51,643.20)" style="font-family:Liberation Serif,serif;font-weight:bold;fill:#74402c;stroke:#74402c;stroke-width:0.3px;font-size:10.0px" textLength="31.0" lengthAdjust="spacingAndGlyphs">БИЛЕТ</text><text transform="matrix(0.6323,-0.3677,0.3270,0.5947,681.21,633.60)" style="font-family:Liberation Serif,serif;font-weight:bold;fill:#74402c;stroke:#74402c;stroke-width:0.3px;font-size:10.0px" textLength="31.0" lengthAdjust="spacingAndGlyphs">БАНКА</text><text transform="matrix(0.5994,-0.4354,0.3701,0.5507,704.71,619.79)" style="font-family:Liberation Serif,serif;font-weight:bold;fill:#74402c;stroke:#74402c;stroke-width:0.3px;font-size:10.0px" textLength="37.2" lengthAdjust="spacingAndGlyphs">РОССИИ</text>
<text transform="matrix(0.9027,-0.4514,0.4165,1.0470,679.11,710.40)" style="font-family:Liberation Sans,Arial,sans-serif;font-weight:bold;font-style:italic;fill:#a32c1e;stroke:#a32c1e;stroke-width:0.35px;font-size:10.0px" textLength="24.8" lengthAdjust="spacingAndGlyphs">ПЯТЬ</text><text transform="matrix(0.9227,-0.6647,0.4674,0.9992,704.59,697.21)" style="font-family:Liberation Sans,Arial,sans-serif;font-weight:bold;font-style:italic;fill:#a32c1e;stroke:#a32c1e;stroke-width:0.35px;font-size:10.0px" textLength="31.0" lengthAdjust="spacingAndGlyphs">ТЫСЯЧ</text><text transform="matrix(0.8736,-0.8520,0.5523,0.9324,735.80,674.31)" style="font-family:Liberation Sans,Arial,sans-serif;font-weight:bold;font-style:italic;fill:#a32c1e;stroke:#a32c1e;stroke-width:0.35px;font-size:10.0px" textLength="37.2" lengthAdjust="spacingAndGlyphs">РУБЛЕЙ</text>
</g>
<clipPath id="nc1"><path d="M582.9,519.5 L585.7,519.5 L588.6,519.6 L591.4,519.6 L594.3,519.6 L597.1,519.5 L600.0,519.4 L602.8,519.2 L605.6,518.9 L608.4,518.7 L611.2,518.4 L614.0,518.1 L616.8,517.8 L619.5,517.5 L622.2,517.1 L624.9,516.7 L627.5,516.2 L630.1,515.7 L632.7,515.1 L635.3,514.5 L637.9,513.9 L640.5,513.4 L643.1,512.9 L645.7,512.4 L648.3,511.9 L650.9,511.3 L653.5,510.6 L656.1,509.8 L658.7,509.0 L661.3,508.2 L663.8,507.3 L666.5,506.3 L669.1,505.3 L671.7,504.3 L674.3,503.2 L676.9,502.0 L679.6,500.7 L682.3,499.4 L685.0,498.1 L687.8,496.8 L690.4,495.2 L693.1,493.5 L695.8,491.7 L698.6,489.7 L701.3,487.6 L703.8,485.2 L706.3,482.7 L708.7,480.1 L711.2,477.6 L714.3,478.9 L717.4,480.2 L720.5,481.6 L723.5,482.9 L726.5,484.1 L729.6,485.3 L732.6,486.4 L735.6,487.5 L738.6,488.5 L741.6,489.4 L744.6,490.4 L747.6,491.2 L750.5,492.0 L753.5,492.8 L756.4,493.5 L759.4,494.2 L762.3,494.8 L765.2,495.3 L768.1,495.9 L770.9,496.4 L773.8,496.8 L776.6,497.3 L779.4,497.8 L782.2,498.3 L781.2,501.4 L780.3,504.6 L779.2,507.7 L778.0,510.7 L776.5,513.6 L774.9,516.3 L773.3,519.1 L771.8,521.8 L770.4,524.5 L768.9,527.1 L767.4,529.8 L766.0,532.3 L764.5,534.9 L763.0,537.4 L761.4,539.9 L759.8,542.3 L758.2,544.6 L756.5,546.9 L754.8,549.2 L753.1,551.5 L751.4,553.7 L749.7,556.0 L747.9,558.2 L746.2,560.4 L744.4,562.5 L742.5,564.6 L740.6,566.6 L738.6,568.6 L736.6,570.5 L734.5,572.5 L732.5,574.4 L730.4,576.3 L728.4,578.3 L726.2,580.2 L724.1,582.1 L721.9,584.0 L719.6,585.7 L717.2,587.5 L714.8,589.1 L712.3,590.8 L709.8,592.4 L707.3,593.9 L704.7,595.4 L702.1,597.0 L699.6,598.6 L697.1,600.3 L694.7,602.1 L692.3,603.9 L687.9,602.6 L683.4,601.3 L678.9,600.0 L674.3,598.4 L669.7,596.5 L665.1,594.2 L660.6,591.8 L656.0,589.2 L651.4,586.5 L646.7,583.6 L642.0,580.6 L637.3,577.3 L632.5,573.9 L627.9,570.1 L623.6,565.7 L619.0,561.5 L614.2,557.2 L609.3,552.9 L604.5,548.2 L599.8,543.2 L595.3,537.8 L591.0,532.0 L586.9,525.8Z"/></clipPath>
<g clip-path="url(#nc1)">
<path d="M582.9,519.5 L585.7,519.5 L588.6,519.6 L591.4,519.6 L594.3,519.6 L597.1,519.5 L600.0,519.4 L602.8,519.2 L605.6,518.9 L608.4,518.7 L611.2,518.4 L614.0,518.1 L616.8,517.8 L619.5,517.5 L622.2,517.1 L624.9,516.7 L627.5,516.2 L630.1,515.7 L632.7,515.1 L635.3,514.5 L637.9,513.9 L640.5,513.4 L643.1,512.9 L645.7,512.4 L648.3,511.9 L650.9,511.3 L653.5,510.6 L656.1,509.8 L658.7,509.0 L661.3,508.2 L663.8,507.3 L666.5,506.3 L669.1,505.3 L671.7,504.3 L674.3,503.2 L676.9,502.0 L679.6,500.7 L682.3,499.4 L685.0,498.1 L687.8,496.8 L690.4,495.2 L693.1,493.5 L695.8,491.7 L698.6,489.7 L701.3,487.6 L703.8,485.2 L706.3,482.7 L708.7,480.1 L711.2,477.6 L714.3,478.9 L717.4,480.2 L720.5,481.6 L723.5,482.9 L726.5,484.1 L729.6,485.3 L732.6,486.4 L735.6,487.5 L738.6,488.5 L741.6,489.4 L744.6,490.4 L747.6,491.2 L750.5,492.0 L753.5,492.8 L756.4,493.5 L759.4,494.2 L762.3,494.8 L765.2,495.3 L768.1,495.9 L770.9,496.4 L773.8,496.8 L776.6,497.3 L779.4,497.8 L782.2,498.3 L781.2,501.4 L780.3,504.6 L779.2,507.7 L778.0,510.7 L776.5,513.6 L774.9,516.3 L773.3,519.1 L771.8,521.8 L770.4,524.5 L768.9,527.1 L767.4,529.8 L766.0,532.3 L764.5,534.9 L763.0,537.4 L761.4,539.9 L759.8,542.3 L758.2,544.6 L756.5,546.9 L754.8,549.2 L753.1,551.5 L751.4,553.7 L749.7,556.0 L747.9,558.2 L746.2,560.4 L744.4,562.5 L742.5,564.6 L740.6,566.6 L738.6,568.6 L736.6,570.5 L734.5,572.5 L732.5,574.4 L730.4,576.3 L728.4,578.3 L726.2,580.2 L724.1,582.1 L721.9,584.0 L719.6,585.7 L717.2,587.5 L714.8,589.1 L712.3,590.8 L709.8,592.4 L707.3,593.9 L704.7,595.4 L702.1,597.0 L699.6,598.6 L697.1,600.3 L694.7,602.1 L692.3,603.9 L687.9,602.6 L683.4,601.3 L678.9,600.0 L674.3,598.4 L669.7,596.5 L665.1,594.2 L660.6,591.8 L656.0,589.2 L651.4,586.5 L646.7,583.6 L642.0,580.6 L637.3,577.3 L632.5,573.9 L627.9,570.1 L623.6,565.7 L619.0,561.5 L614.2,557.2 L609.3,552.9 L604.5,548.2 L599.8,543.2 L595.3,537.8 L591.0,532.0 L586.9,525.8Z" fill="#f8efdc"/>
<linearGradient id="pg1" gradientUnits="userSpaceOnUse" x1="663.7" y1="567.8" x2="714.0" y2="511.0"><stop offset="0" stop-color="#f7c6a6"/><stop offset="0.45" stop-color="#f3b892"/><stop offset="1" stop-color="#eaa984"/></linearGradient>
<path d="M610.8,518.4 L613.6,518.1 L616.3,517.8 L619.1,517.5 L621.8,517.1 L624.4,516.7 L627.1,516.3 L629.7,515.7 L632.3,515.2 L634.9,514.6 L637.5,514.0 L640.1,513.5 L642.7,513.0 L645.3,512.5 L647.9,512.0 L650.5,511.4 L653.1,510.7 L655.7,510.0 L658.3,509.1 L660.8,508.3 L663.4,507.4 L666.0,506.5 L668.6,505.5 L671.3,504.5 L673.9,503.3 L676.5,502.1 L679.2,500.9 L681.8,499.6 L684.5,498.3 L687.3,497.0 L690.0,495.5 L693.2,498.0 L696.5,500.5 L699.8,502.7 L703.2,504.7 L706.6,506.7 L710.0,508.7 L713.3,510.6 L716.7,512.5 L720.0,514.3 L723.3,516.0 L726.7,517.6 L730.2,518.8 L733.7,519.5 L737.3,520.1 L740.9,520.5 L744.4,520.9 L747.9,521.2 L751.4,521.4 L754.8,521.6 L758.2,521.8 L761.6,521.9 L765.0,522.0 L768.3,522.1 L771.6,522.2 L770.1,524.9 L768.7,527.6 L767.2,530.2 L765.7,532.8 L764.2,535.3 L762.7,537.8 L761.2,540.3 L759.6,542.7 L757.9,545.0 L756.2,547.3 L754.5,549.6 L752.8,551.8 L751.1,554.1 L749.4,556.3 L747.7,558.5 L745.9,560.7 L744.1,562.8 L742.2,564.9 L740.3,566.9 L738.3,568.9 L736.3,570.8 L734.2,572.8 L732.2,574.7 L730.1,576.7 L728.0,578.6 L725.9,580.5 L723.7,582.4 L721.5,584.2 L719.2,586.0 L716.8,587.7 L712.6,586.9 L708.4,586.1 L704.0,585.2 L699.7,584.0 L695.3,582.5 L690.9,580.9 L686.4,579.2 L681.9,577.3 L677.3,575.3 L672.8,573.0 L668.3,570.5 L663.7,567.8 L659.2,564.9 L654.6,561.8 L650.0,558.6 L645.3,555.2 L640.6,551.7 L635.8,548.1 L631.1,544.1 L626.8,539.6 L622.9,534.6 L618.9,529.3 L614.9,523.9Z" fill="url(#pg1)"/>
<path d="M638.3,513.8 L640.9,513.3 L643.4,512.8 L646.0,512.4 L648.6,511.8 L651.1,511.2 L653.7,510.6 L656.2,509.8 L658.7,509.0 L661.3,508.1 L663.8,507.3 L666.4,506.3 L669.0,505.4 L671.6,504.3 L674.1,503.2 L676.7,502.0 L679.3,500.8 L682.0,499.5 L684.6,498.3 L687.4,497.0 L690.0,495.5 L692.9,497.8 L695.8,500.0 L698.8,502.0 L701.9,503.9 L704.9,505.7 L708.0,507.5 L711.0,509.2 L714.0,511.0 L711.6,512.9 L709.1,514.7 L706.7,516.5 L704.2,518.3 L701.8,520.0 L699.4,521.6 L697.0,523.2 L694.5,524.8 L692.0,526.2 L689.6,527.6 L687.1,529.0 L684.6,530.3 L682.2,531.6 L679.7,532.9 L677.2,534.1 L674.7,535.2 L672.2,536.3 L669.6,537.3 L667.1,538.2 L664.5,539.2 L660.4,536.3 L656.4,533.2 L652.7,529.7 L649.1,525.9 L645.6,522.0 L642.0,518.0Z" fill="#d39a78" fill-opacity="0.45"/>
<path d="M661.3,539.3 L665.8,537.7 L670.2,536.2 L674.6,534.6 L678.3,532.2 L682.0,529.7 L685.7,527.1 L689.4,524.4 L693.2,522.0 L696.9,519.4 L700.5,516.6 L704.9,520.6 L709.2,524.4 L704.8,527.5 L700.4,530.4 L695.9,533.1 L691.5,535.8 L687.2,538.5 L682.9,540.9 L678.4,543.2 L673.5,544.9 L668.6,546.6 L665.0,543.0Z" fill="#c9977a" fill-opacity="0.5"/>
<path d="M669.3,547.3 L674.3,545.7 L679.3,544.0 L683.7,541.7 L687.9,539.2 L692.2,536.5 L696.4,533.6 L700.9,530.9 L705.4,528.0 L709.7,524.9 L715.1,528.4 L710.9,531.8 L706.7,534.9 L702.4,537.8 L698.3,540.7 L694.2,543.5 L690.0,546.1 L685.7,548.4 L680.4,550.2 L675.0,551.9Z" fill="#f3d28e" fill-opacity="0.9"/>
<path d="M706.4,533.8 L705.8,529.8 L705.3,525.7 L702.5,521.0 L708.9,525.4 L713.4,524.9 L717.8,524.3 L723.4,525.4 L729.0,525.8 L730.5,527.7 L724.8,530.3 L719.1,532.6 L713.1,534.4Z" fill="#e9a868"/><path d="M704.9,541.2 L708.5,539.4 L712.0,537.6 L717.3,535.7 L722.4,533.6 L727.3,531.2 L732.2,528.5 L736.5,529.4 L731.2,532.8 L725.7,535.9 L720.0,538.7 L714.4,540.7 L708.6,542.5Z" fill="#e9a868" fill-opacity="0.85"/>
<path d="M662.8,556.3 L668.5,561.0 L670.1,564.7 L667.0,566.2 L660.3,564.8 L652.5,560.6 L646.6,555.3 L645.0,551.2 L648.3,550.0 L655.1,552.1Z M678.9,565.9 L684.6,569.6 L686.3,572.9 L683.3,574.7 L676.6,574.2 L668.9,571.1 L663.2,566.6 L661.6,562.8 L664.8,561.4 L671.3,562.7Z M694.9,572.8 L700.6,575.8 L702.2,578.7 L699.3,580.8 L692.8,581.0 L685.3,579.0 L679.5,575.6 L677.9,572.2 L680.9,570.5 L687.4,570.9Z M710.6,577.8 L716.1,579.9 L717.7,582.4 L714.9,584.6 L708.5,585.5 L701.2,584.6 L695.6,582.0 L694.1,579.0 L697.0,577.0 L703.3,576.7Z M725.8,580.6 L725.0,581.4 L722.8,583.2 L720.0,585.5 L717.5,587.2 L716.6,587.9 L711.3,586.1 L709.8,583.6 L712.6,581.5 L718.8,580.3Z M676.8,558.1 L682.4,562.2 L684.1,565.6 L681.2,567.4 L674.7,566.7 L667.1,563.3 L661.4,558.5 L659.7,554.6 L662.8,553.2 L669.3,554.6Z M692.6,565.8 L698.3,568.9 L700.1,571.9 L697.2,574.0 L690.8,574.1 L683.3,572.0 L677.6,568.2 L675.9,564.7 L678.8,563.0 L685.2,563.6Z M708.3,571.2 L713.8,573.6 L715.5,576.4 L712.8,578.7 L706.6,579.5 L699.3,578.1 L693.7,575.2 L692.0,572.1 L694.8,570.1 L701.1,569.8Z M723.6,574.7 L728.9,576.4 L728.1,578.5 L725.5,580.9 L722.0,582.6 L714.9,582.2 L709.4,580.2 L707.7,577.4 L710.5,575.1 L716.5,574.3Z M731.1,575.8 L730.5,576.5 L728.4,578.5 L725.7,580.9 L723.4,582.8 L722.5,583.5 L723.3,582.8 L723.0,580.5 L725.7,578.1 L730.2,576.6Z M674.8,550.0 L680.3,554.4 L682.0,558.0 L679.1,559.8 L672.6,558.8 L665.1,555.1 L659.4,550.2 L657.8,546.1 L660.9,544.7 L667.4,546.3Z M690.4,558.6 L696.0,561.9 L697.7,565.0 L694.9,567.1 L688.6,567.0 L681.1,564.5 L675.5,560.5 L673.8,556.7 L676.7,555.1 L683.1,556.0Z M706.0,564.5 L711.6,567.1 L713.3,569.9 L710.6,572.2 L704.4,572.8 L697.1,571.3 L691.4,568.2 L689.7,565.0 L692.5,563.0 L698.8,563.0Z M721.3,568.6 L726.7,570.5 L728.4,572.9 L725.8,575.3 L719.8,576.6 L712.7,576.1 L707.2,573.6 L705.5,570.7 L708.2,568.5 L714.3,567.8Z M736.1,571.0 L735.5,571.7 L733.5,573.6 L730.9,576.1 L728.7,578.0 L727.8,578.8 L722.5,577.1 L720.8,574.5 L723.4,572.2 L729.3,570.9Z M688.3,551.2 L693.8,554.8 L695.5,558.1 L692.7,560.0 L686.4,559.7 L679.0,556.8 L673.4,552.4 L671.8,548.5 L674.8,546.9 L681.1,548.1Z M703.7,557.8 L709.3,560.5 L711.0,563.4 L708.3,565.5 L702.1,566.0 L694.8,564.3 L689.2,561.0 L687.5,557.6 L690.3,555.8 L696.5,556.0Z M719.0,562.3 L724.4,564.4 L726.1,567.1 L723.5,569.4 L717.5,570.4 L710.4,569.5 L704.9,566.9 L703.2,563.9 L705.9,561.8 L712.0,561.3Z M733.9,565.1 L739.1,566.7 L738.4,568.8 L735.9,571.2 L732.5,573.0 L725.6,572.9 L720.2,571.0 L718.5,568.3 L721.1,566.0 L727.0,564.9Z M741.3,566.0 L740.8,566.8 L738.8,568.8 L736.3,571.2 L734.1,573.2 L733.1,573.9 L733.8,573.2 L733.4,570.9 L735.9,568.5 L740.4,566.8Z M686.4,543.5 L691.7,547.6 L693.3,550.9 L690.5,552.7 L684.3,552.1 L677.0,548.8 L671.5,544.1 L670.0,540.3 L673.0,538.9 L679.3,540.2Z M701.5,551.0 L706.9,553.9 L708.7,556.8 L706.0,558.9 L699.8,559.2 L692.6,557.2 L687.0,553.5 L685.4,550.0 L688.3,548.3 L694.4,548.9Z M716.6,555.8 L722.0,558.0 L723.8,560.8 L721.2,563.1 L715.3,564.0 L708.1,562.9 L702.6,560.2 L700.9,557.1 L703.6,555.1 L709.6,554.7Z M731.4,559.1 L736.7,560.7 L738.4,563.2 L736.0,565.7 L730.2,567.2 L723.3,566.8 L717.9,564.7 L716.2,561.9 L718.8,559.6 L724.6,558.6Z M745.8,560.9 L745.3,561.7 L743.5,563.8 L741.1,566.3 L739.0,568.3 L738.0,569.1 L732.8,567.5 L731.1,565.1 L733.6,562.6 L739.2,561.0Z M714.2,549.2 L719.5,551.5 L721.3,554.4 L718.8,556.7 L712.9,557.5 L705.8,556.2 L700.3,553.4 L698.6,550.2 L701.3,548.3 L707.2,548.0Z M728.9,552.6 L734.1,554.5 L735.9,557.1 L733.6,559.7 L727.9,561.1 L721.0,560.5 L715.6,558.3 L713.9,555.4 L716.4,553.1 L722.1,552.1Z M743.1,554.7 L748.2,556.1 L747.8,558.5 L745.6,561.2 L742.4,563.2 L735.8,563.2 L730.5,561.6 L728.7,558.9 L731.1,556.4 L736.6,554.8Z M750.3,555.3 L749.9,556.1 L748.3,558.3 L746.1,561.1 L744.1,563.3 L743.2,564.1 L743.7,563.3 L743.2,560.9 L745.4,558.2 L749.5,556.2Z M726.5,546.1 L731.6,548.0 L733.3,550.7 L731.0,553.3 L725.4,554.7 L718.6,554.0 L713.2,551.7 L711.4,548.7 L714.0,546.5 L719.7,545.5Z M740.6,548.5 L745.6,549.9 L747.4,552.5 L745.2,555.2 L739.8,557.1 L733.2,557.1 L728.0,555.2 L726.2,552.4 L728.6,549.9 L734.1,548.4Z M754.4,549.8 L753.9,550.6 L752.3,552.8 L750.2,555.6 L748.3,557.9 L747.5,558.8 L742.4,557.3 L740.5,554.8 L742.8,552.0 L748.1,550.2Z" fill="#fbd9c0" fill-opacity="0.35" stroke="#e38456" stroke-opacity="0.6" stroke-width="0.45"/>
<path d="M727.0,547.1 L726.9,545.8 L731.7,542.1 L736.3,538.3 L739.8,534.2 L743.2,529.9 L744.5,526.6 L745.8,523.2 L747.1,519.5 L752.3,520.4 L757.5,521.2 L756.8,524.4 L756.2,527.6 L754.0,531.1 L751.7,534.6 L748.4,538.2 L745.0,541.6 L740.2,545.0 L735.4,548.3 L732.4,549.4Z" fill="#913a27"/>
<path d="M714.3,560.7 L715.6,558.2 L717.0,555.6 L721.5,553.4 L725.9,551.0 L730.3,548.5 L737.3,549.1 L735.9,551.8 L734.6,554.5 L735.1,557.3 L735.6,560.0 L729.9,561.5 L724.0,562.8 L719.2,561.8Z" fill="#9a4430"/><path d="M707.9,570.1 L714.2,567.3 L720.3,564.3 L728.1,562.4 L735.6,560.0 L736.3,563.1 L731.4,566.8 L726.3,570.4 L723.3,572.6 L720.2,574.9 L714.1,572.7Z" fill="#8e3826"/>
<path d="M702.1,577.5 L703.4,573.9 L705.9,571.9 L708.5,569.8 L711.4,568.2 L714.4,566.5 L720.8,565.9 L718.4,568.7 L716.6,570.6 L714.8,572.5 L713.8,575.7 L713.5,578.1 L709.0,579.4 L704.1,578.9Z" fill="#8a3827"/><path d="M705.9,576.6 L708.0,573.4 L710.5,571.5 L712.9,569.6 L716.2,567.8 L713.9,571.1 L711.5,574.8 L709.9,577.2Z" fill="#d89070"/>
<path d="M659.8,522.5 L665.2,523.8 L669.2,527.9 L673.9,529.5 L679.8,529.5 L684.7,532.0 L687.5,536.1 L685.5,538.5 L691.3,541.2 L696.2,542.9 L701.1,544.2 L705.8,544.9 L710.4,545.2 L710.6,547.4 L717.1,548.6 L725.7,549.3 L732.3,548.0 L733.4,549.2 L729.2,551.9 L724.5,551.5 L719.8,551.0 L711.3,549.5 L708.7,549.7 L715.3,552.1 L719.7,553.4 L724.1,554.5 L728.8,554.8 L726.6,557.7 L719.1,556.6 L714.3,555.4 L709.6,554.1 L703.0,552.0 L698.0,553.5 L691.4,549.4 L686.8,546.4 L682.3,543.2 L676.7,541.3 L671.1,539.3 L664.8,535.9 L663.3,532.8 L664.5,530.8 L660.5,526.9Z" fill="#d5602a"/><path d="M660.2,523.0 L665.4,524.3 L668.9,527.9 L673.9,529.8 L679.6,530.1 L683.6,532.8 L680.7,535.1 L678.5,537.3 L685.5,542.8 L689.7,545.3 L694.0,547.6 L697.5,549.9 L701.0,552.0 L697.6,552.8 L691.8,549.3 L687.3,546.3 L682.9,543.1 L677.4,540.9 L671.8,538.6 L665.9,535.9 L664.4,533.1 L665.4,531.0 L661.2,526.9Z" fill="#e58549" fill-opacity="0.8"/>
<polygon points="739.0,521.7 742.0,525.5 737.6,526.4 736.6,530.8 732.9,529.1 729.3,530.4 728.1,526.5 725.0,525.0 726.5,521.7 724.2,518.1 727.9,516.8 729.1,512.5 732.9,515.2 736.1,513.9 737.4,517.2 742.3,517.8" fill="#c12b1d"/>
<circle cx="735.3" cy="519.8" r="1.8" fill="#f8e8d8"/>
<path d="M693.9,512.2 L698.3,508.8 L702.8,505.2 L707.9,508.8 L712.9,512.3 L717.9,515.8 L714.4,519.3 L711.1,522.7 L705.4,519.4 L699.6,515.9Z" fill="#6f3150"/>
<path d="M762.7,500.7 L765.1,501.4 L766.7,502.7 L767.2,504.4 L766.7,506.5 L764.9,508.6 L762.1,510.7 L758.5,512.4 L754.5,513.7 L750.5,514.5 L746.9,514.5 L744.2,513.8 L742.6,512.6 L742.4,510.9 L743.5,508.8 L745.7,506.7 L748.7,504.6 L752.2,502.8 L756.0,501.5 L759.5,500.8Z" fill="#ead3c0"/>
<path d="M760.5,503.1 L762.2,503.5 L763.2,504.4 L763.6,505.6 L763.1,507.0 L761.9,508.4 L760.0,509.8 L757.5,511.0 L754.8,511.9 L752.1,512.4 L749.7,512.4 L747.9,512.0 L746.8,511.1 L746.7,510.0 L747.3,508.6 L748.8,507.1 L750.8,505.7 L753.3,504.5 L755.8,503.6 L758.3,503.1Z" fill="#e3bfa8" stroke="#c58a72" stroke-width="0.7"/>
<text transform="matrix(0.3108,-0.2770,1.0754,0.1442,755.20,511.72)" style="font-family:Liberation Sans,Arial,sans-serif;font-weight:bold;fill:#c58a72;font-size:10.0px" textLength="24.8" lengthAdjust="spacingAndGlyphs">5000</text>
<path d="M616.8,538.0 L619.4,541.2 L620.3,544.0 L622.0,546.9 L621.7,548.6 L622.0,550.6 L620.3,550.9 L619.2,551.8 L616.4,550.6 L614.1,550.1 L611.1,547.5 L608.2,545.5 L605.9,542.2 L603.2,539.0 L602.4,535.9 L601.0,532.3 L601.8,530.6 L601.6,527.8 L603.5,527.7 L604.9,526.8 L607.5,528.7 L609.7,529.0 L612.3,532.2 L615.0,534.5Z" fill="#9c4a36"/>
<path d="M615.9,538.4 L617.8,541.5 L619.1,544.3 L619.8,546.6 L619.6,548.3 L618.7,549.2 L616.9,549.3 L614.6,548.6 L612.0,547.0 L609.3,544.8 L606.9,541.9 L604.9,538.8 L603.7,535.7 L603.3,533.0 L603.7,531.1 L604.9,530.0 L606.6,530.0 L608.9,530.9 L611.3,532.8 L613.7,535.4Z" fill="#ad5c44"/>
<path d="M683.5,597.4 L686.9,595.1 L690.4,593.1 L694.0,591.0" stroke="#e39a76" stroke-width="1" fill="none"/>
<path d="M686.0,598.2 L689.3,595.8 L692.7,593.7 L696.2,591.7" stroke="#e39a76" stroke-width="1" fill="none"/>
<path d="M688.5,598.9 L691.7,596.5 L695.0,594.3 L698.4,592.2" stroke="#e39a76" stroke-width="1" fill="none"/>
<path d="M690.9,599.5 L694.0,597.1 L697.3,594.9 L700.7,592.8" stroke="#e39a76" stroke-width="1" fill="none"/>
<path d="M694.8,588.2 L699.1,585.9" stroke="#8e3826" stroke-width="1.2" fill="none"/>
<path d="M699.0,589.5 L703.2,587.2" stroke="#8e3826" stroke-width="1.2" fill="none"/>
<path d="M703.3,590.6 L707.3,588.3" stroke="#8e3826" stroke-width="1.2" fill="none"/>
<text transform="matrix(1.3074,-0.1697,2.1558,2.2977,629.03,544.21)" style="font-family:Liberation Sans,Arial,sans-serif;font-weight:bold;fill:#f7cbb0;stroke:#b8502c;stroke-width:0.7px;paint-order:stroke;filter:url(#ds5);font-size:10.0px" textLength="24.8" lengthAdjust="spacingAndGlyphs">5000</text>
<text transform="matrix(0.5525,-0.3407,1.7990,0.7017,681.15,596.99)" style="font-family:Liberation Sans,Arial,sans-serif;font-weight:bold;fill:#e58a60;font-size:10.0px" textLength="24.8" lengthAdjust="spacingAndGlyphs">5000</text>
<text transform="matrix(0.4802,-0.1886,0.6312,0.5431,668.18,520.07)" style="font-family:Liberation Serif,serif;font-weight:bold;fill:#74402c;stroke:#74402c;stroke-width:0.3px;font-size:10.0px" textLength="31.0" lengthAdjust="spacingAndGlyphs">БИЛЕТ</text><text transform="matrix(0.3685,-0.3044,0.6389,0.4703,685.78,512.71)" style="font-family:Liberation Serif,serif;font-weight:bold;fill:#74402c;stroke:#74402c;stroke-width:0.3px;font-size:10.0px" textLength="31.0" lengthAdjust="spacingAndGlyphs">БАНКА</text><text transform="matrix(0.3769,-0.3240,0.6478,0.3866,699.45,501.25)" style="font-family:Liberation Serif,serif;font-weight:bold;fill:#74402c;stroke:#74402c;stroke-width:0.3px;font-size:10.0px" textLength="37.2" lengthAdjust="spacingAndGlyphs">РОССИИ</text>
<text transform="matrix(0.5122,-0.5161,1.3170,0.1353,743.37,555.36)" style="font-family:Liberation Sans,Arial,sans-serif;font-weight:bold;font-style:italic;fill:#a32c1e;stroke:#a32c1e;stroke-width:0.35px;font-size:10.0px" textLength="24.8" lengthAdjust="spacingAndGlyphs">ПЯТЬ</text><text transform="matrix(0.2832,-0.5759,1.2766,0.0746,757.39,540.68)" style="font-family:Liberation Sans,Arial,sans-serif;font-weight:bold;font-style:italic;fill:#a32c1e;stroke:#a32c1e;stroke-width:0.35px;font-size:10.0px" textLength="31.0" lengthAdjust="spacingAndGlyphs">ТЫСЯЧ</text><text transform="matrix(0.2766,-0.5745,1.2158,0.1064,766.37,521.12)" style="font-family:Liberation Sans,Arial,sans-serif;font-weight:bold;font-style:italic;fill:#a32c1e;stroke:#a32c1e;stroke-width:0.35px;font-size:10.0px" textLength="37.2" lengthAdjust="spacingAndGlyphs">РУБЛЕЙ</text>
</g>
</g>
<defs><linearGradient id="hg" gradientUnits="userSpaceOnUse" x1="748" y1="0" x2="828" y2="0"><stop offset="0" stop-color="#f0ab92"/><stop offset="1" stop-color="#fdf3ee"/></linearGradient></defs>
<path d="M485.9,849.6 C486.3,848.8 486.2,846.0 488.4,844.6 C490.6,843.1 495.1,841.5 498.9,840.8 C502.8,840.1 505.6,839.8 511.5,840.3 C517.5,840.9 525.9,842.6 534.6,844.1 C543.4,845.7 555.1,848.4 564.1,849.6 C573.0,850.8 581.4,851.7 588.4,851.3 C595.4,850.9 600.0,848.5 606.1,847.1 C612.2,845.7 620.0,843.8 625.0,842.9 C630.0,842.0 634.5,841.8 636.3,841.6 C634.1,841.5 628.6,840.7 622.9,840.8 C617.2,840.8 608.9,841.3 601.9,842.0 C594.9,842.8 586.8,845.4 580.9,845.4 C574.9,845.4 569.5,843.9 566.2,842.0 C562.8,840.2 560.9,837.0 560.7,834.5 C560.5,831.9 562.1,828.6 564.9,826.9 C567.7,825.2 571.9,825.0 577.5,824.4 C583.1,823.7 591.7,824.2 598.5,823.1 C605.4,822.0 610.4,819.5 618.7,817.7 C627.0,815.8 638.9,813.2 648.1,812.2 C657.4,811.1 665.8,810.2 674.2,811.3 C682.6,812.5 691.7,816.5 698.6,818.9 C705.4,821.4 709.8,823.9 715.4,826.1 C721.0,828.2 725.2,829.6 732.2,831.9 C739.2,834.3 747.6,837.4 757.4,839.9 C767.2,842.4 779.1,844.9 791.0,847.1 C802.9,849.2 822.5,852.0 828.8,853.0 L828.8,917.7 C825.3,916.7 816.9,914.6 807.8,911.8 C798.7,909.0 785.4,904.8 774.2,900.9 C763.0,896.9 750.2,892.0 740.6,888.3 C730.9,884.5 723.2,880.8 716.2,878.2 C709.2,875.5 705.7,872.9 698.6,872.3 C691.4,871.7 681.7,873.7 673.3,874.8 C664.9,875.9 657.2,878.0 648.1,879.0 C639.0,880.1 628.5,880.8 618.7,881.1 C608.9,881.4 599.8,881.6 589.3,880.7 C578.8,879.8 566.9,877.9 555.7,875.7 C544.4,873.4 531.8,870.0 522.0,867.2 C512.2,864.4 502.8,861.8 496.8,858.8 C490.8,855.9 487.7,851.1 485.9,849.6Z" fill="url(#hg)"/>
<path d="M498.9,850.4 C502.8,852.2 512.6,857.4 522.0,860.9 C531.5,864.4 544.4,868.6 555.7,871.4 C566.9,874.3 578.8,876.9 589.3,878.2 C599.8,879.4 613.8,878.9 618.7,879.0" fill="none" stroke="#e0957c" stroke-width="1"/>
<path d="M588.4,851.3 C591.4,850.6 600.0,848.8 606.1,847.5 C612.2,846.2 620.0,844.2 625.0,843.3 C630.0,842.4 634.5,842.2 636.3,842.0" fill="none" stroke="#e39a82" stroke-width="0.9"/>
<path d="M713.7,825.2 C714.5,826.1 716.3,828.9 718.7,830.3 C721.1,831.7 726.4,833.1 728.0,833.6" fill="none" stroke="#e0957c" stroke-width="0.9"/>
<path d="M500.2,843.7 C499.8,844.4 497.5,846.5 497.7,847.9 C497.8,849.3 500.5,851.4 501.0,852.1" fill="none" stroke="#e39a82" stroke-width="0.8"/>

<text class="foot" x="49.6" y="974.2" textLength="705" lengthAdjust="spacingAndGlyphs">Quelle: Numbeo.com. Die Angaben der Datenplattform basieren teilweise auf Crowdsourcing, also auf Angaben</text>
<text class="foot" x="50.0" y="991.6" textLength="679" lengthAdjust="spacingAndGlyphs">von Nutzern aus den jeweiligen Ländern. Die Daten wurden in den vergangenen zwölf Monaten gesammelt.</text>

</svg></body></html>
